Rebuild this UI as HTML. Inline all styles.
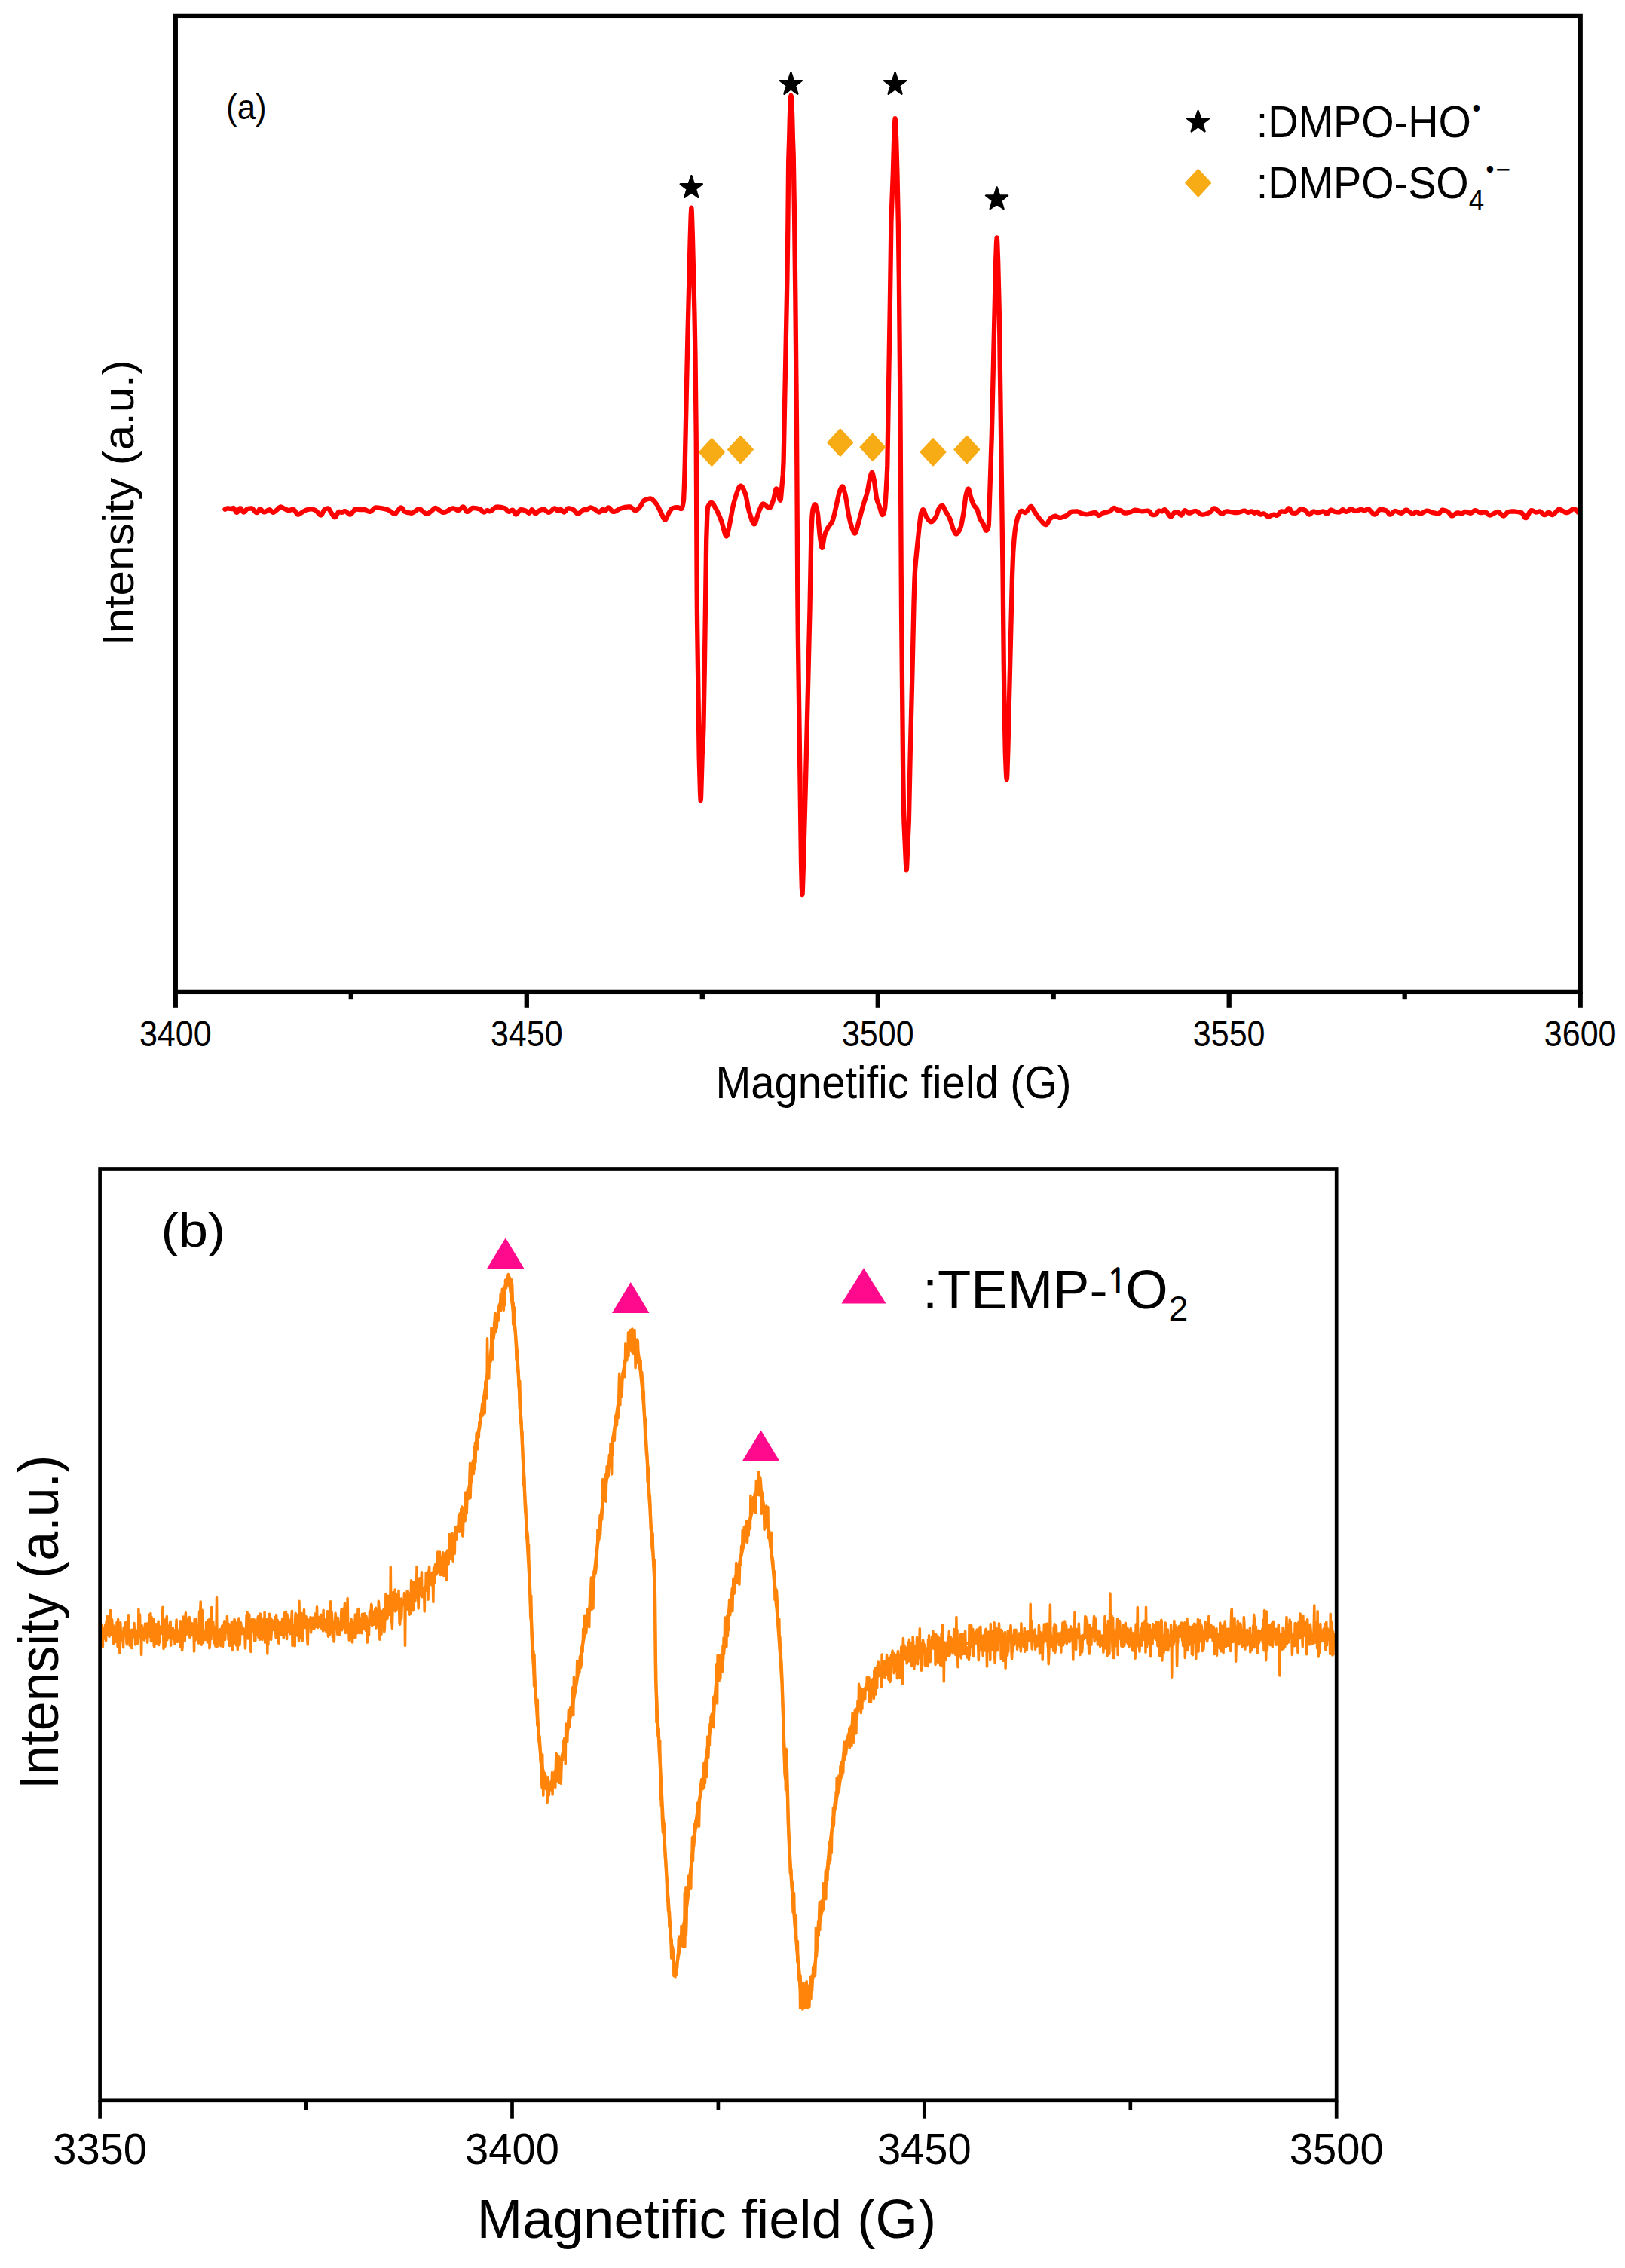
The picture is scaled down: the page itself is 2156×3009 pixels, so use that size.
<!DOCTYPE html>
<html lang="en">
<head>
<meta charset="utf-8">
<title>EPR spectra</title>
<style>
html,body{margin:0;padding:0;background:#fff;}
body{width:2156px;height:3009px;overflow:hidden;}
svg{display:block;}
</style>
</head>
<body>
<svg width="2156" height="3009" viewBox="0 0 2156 3009">
<rect x="0" y="0" width="2156" height="3009" fill="#fff"/>
<g font-family="'Liberation Sans', sans-serif" fill="#000">
<polyline points="298.5,675.8 300.5,674.7 302.0,674.3 307.8,675.2 309.2,674.1 309.7,674.0 310.2,674.2 310.8,675.0 313.2,679.1 313.7,679.7 314.2,679.8 314.7,679.7 315.3,679.0 317.9,674.9 318.4,674.4 318.9,674.3 319.4,674.5 320.0,675.2 322.4,678.8 323.0,679.4 323.5,679.5 324.6,678.9 326.9,676.1 327.8,675.3 330.9,674.6 333.7,674.3 334.4,674.5 335.2,675.0 339.0,679.2 339.9,679.9 340.7,680.2 341.2,680.2 341.8,679.7 344.0,676.0 344.5,675.5 345.0,675.2 345.6,675.4 346.2,675.8 348.8,678.7 349.9,679.4 350.7,679.4 351.6,679.2 355.8,676.6 357.6,676.2 358.7,676.7 361.2,679.4 362.3,679.8 363.3,679.6 364.4,678.9 368.2,675.8 370.9,673.1 371.7,672.6 372.5,672.5 374.1,673.0 377.7,675.2 380.8,676.5 382.4,677.0 384.1,677.0 387.9,675.9 389.4,675.9 390.8,677.1 393.9,681.7 394.7,682.4 395.4,682.6 396.3,682.5 397.4,682.0 401.5,679.1 406.5,676.5 411.1,675.4 412.9,675.2 414.2,675.4 416.2,676.0 419.0,677.4 420.3,678.5 423.9,682.6 425.0,683.3 425.9,683.5 426.5,683.2 427.1,682.4 429.4,677.6 430.3,676.3 433.0,674.8 435.2,674.3 435.9,674.7 436.7,675.6 442.6,685.1 443.5,686.0 444.3,686.3 444.9,686.1 445.6,685.3 448.4,680.2 449.1,679.3 449.7,678.9 450.6,679.0 452.7,679.7 453.7,679.8 454.5,679.6 456.6,678.2 457.8,678.1 459.4,678.9 463.0,682.0 463.9,682.5 464.8,682.6 465.6,682.3 466.4,681.6 470.0,676.6 470.9,675.7 471.7,675.3 473.1,675.3 477.3,676.1 483.7,675.8 485.2,676.4 488.8,678.5 490.6,678.9 491.5,678.7 492.6,678.0 497.0,674.1 497.9,673.6 498.8,673.4 501.9,673.6 508.1,674.6 514.6,676.2 516.5,677.2 521.2,680.8 522.5,681.5 523.6,681.7 524.5,681.5 525.5,680.7 529.9,674.8 531.0,673.7 531.9,673.4 532.6,673.5 533.4,674.1 536.1,677.7 537.1,678.7 541.6,680.2 545.0,680.7 546.2,680.8 547.1,680.5 549.0,679.5 553.7,676.0 555.0,675.4 556.2,675.2 557.3,675.5 558.6,676.3 564.0,680.9 565.2,681.5 566.2,681.7 567.6,681.4 569.3,680.5 573.9,676.8 576.2,674.5 577.3,673.9 578.5,674.1 579.8,674.6 585.6,678.8 587.0,679.6 588.2,679.8 589.7,679.7 591.3,679.2 597.9,675.3 599.4,674.7 600.7,674.4 601.6,674.3 602.5,674.5 606.5,676.7 607.5,677.0 608.3,677.0 609.7,676.2 612.9,673.1 614.3,672.5 614.9,672.6 615.6,673.3 618.4,677.8 619.1,678.6 619.7,678.9 620.6,678.8 621.6,678.2 625.9,674.4 626.9,674.0 628.0,673.9 632.2,674.3 636.7,675.3 637.9,676.1 640.7,678.9 641.4,679.3 642.1,679.5 643.1,679.2 645.4,677.5 646.4,677.1 647.2,677.2 649.2,678.3 650.8,678.1 652.6,677.0 657.1,673.3 658.4,672.7 659.6,672.5 664.4,672.9 669.9,674.4 671.1,675.3 673.8,678.2 675.0,678.9 676.1,678.7 678.9,676.8 680.1,676.6 681.1,677.6 683.4,681.7 683.9,682.3 684.4,682.6 685.1,682.5 685.9,681.8 689.3,677.2 690.1,676.5 690.8,676.2 693.4,676.4 696.8,677.2 697.9,677.9 700.6,680.2 702.0,680.8 702.4,680.6 702.9,680.1 705.0,676.6 705.5,676.2 705.9,676.2 707.0,677.1 709.3,680.6 709.9,681.2 710.4,681.3 711.8,680.7 714.5,678.0 715.6,677.2 718.5,676.2 720.7,675.8 721.8,675.8 722.7,676.2 726.9,679.6 727.7,679.8 728.5,679.8 730.2,678.8 734.3,675.0 735.3,674.5 736.2,674.3 737.3,674.8 739.4,677.2 740.3,677.9 740.8,678.0 741.2,677.9 743.0,676.0 743.8,675.8 744.8,676.4 747.2,679.0 748.2,679.5 748.8,679.3 749.5,678.7 752.1,675.4 753.1,674.5 754.4,674.3 756.8,674.7 760.8,676.1 761.9,677.1 765.0,680.8 765.9,681.5 766.7,681.7 767.6,681.5 768.7,680.8 772.3,677.5 773.7,676.5 774.8,676.2 779.1,676.1 780.0,675.6 782.2,673.8 783.2,673.4 784.7,673.6 786.4,674.3 790.3,676.5 793.6,678.9 795.1,679.5 795.7,679.4 796.3,679.0 798.6,676.5 799.6,675.8 800.4,676.0 802.3,677.5 803.1,677.5 804.0,676.8 806.2,674.0 807.2,673.4 807.9,673.5 808.6,674.0 812.1,678.0 812.9,678.7 813.6,678.9 815.0,678.8 816.7,678.2 823.2,674.6 828.9,673.0 833.9,672.4 835.6,672.3 836.6,672.6 837.9,673.5 841.4,676.6 842.5,677.1 843.6,677.2 844.7,676.7 845.9,675.9 849.5,672.0 850.6,670.3 853.0,665.8 854.3,664.1 856.4,663.1 858.9,662.2 861.1,661.7 863.2,661.5 864.7,662.0 866.4,663.3 868.2,665.2 871.3,669.1 873.0,672.0 877.3,680.6 880.5,687.7 881.7,689.3 882.3,689.5 882.8,689.4 883.5,688.7 884.2,687.5 887.5,680.4 890.3,676.0 891.8,674.4 895.1,673.4 898.6,673.1 899.9,673.4 903.0,674.9 903.9,675.1 904.4,674.8 905.1,673.4 905.8,671.0 907.1,663.3 908.0,642.6 908.7,618.7 912.4,446.7 915.7,317.4 916.7,285.7 917.3,275.7 917.6,277.6 917.9,283.6 918.9,314.5 921.4,413.5 922.5,472.4 923.7,579.2 924.7,787.3 925.1,828.7 927.7,1004.8 929.0,1051.0 929.6,1062.4 929.9,1060.2 930.2,1053.1 931.7,1001.2 932.9,981.0 933.4,965.8 934.9,881.2 937.2,716.3 938.2,686.1 938.7,677.0 939.2,672.4 941.0,668.9 942.0,667.7 943.0,667.1 944.0,666.9 944.8,667.2 945.7,668.1 946.8,669.7 951.2,677.3 955.0,685.9 957.7,692.9 961.9,708.4 962.9,710.7 963.4,711.3 963.9,711.5 964.3,711.2 964.8,710.2 965.8,706.3 968.8,691.9 972.2,673.3 973.6,667.2 976.8,656.4 978.7,650.7 980.4,646.9 981.2,645.7 982.0,644.9 982.7,644.6 983.3,644.7 984.0,645.2 984.8,646.1 986.4,649.0 988.7,654.4 989.9,658.9 992.6,673.1 993.7,677.8 997.9,691.2 999.3,694.2 999.9,694.9 1000.5,695.3 1001.0,695.3 1001.4,695.1 1002.4,693.2 1006.5,679.6 1009.8,671.7 1011.4,669.0 1012.3,668.5 1013.8,668.9 1015.2,669.9 1018.4,672.8 1020.0,673.7 1021.2,673.8 1022.4,672.5 1023.9,669.3 1026.4,662.5 1028.8,651.3 1029.3,649.6 1029.8,648.6 1030.1,648.5 1030.5,648.8 1031.2,650.3 1033.8,660.5 1034.7,663.1 1035.1,663.7 1035.5,663.8 1036.0,661.6 1038.8,629.4 1039.6,611.9 1044.4,369.7 1045.3,305.2 1046.2,213.3 1047.2,183.4 1047.9,153.8 1048.8,133.8 1049.2,128.4 1049.5,126.8 1049.8,127.8 1050.2,132.5 1051.1,151.9 1051.9,184.2 1052.7,205.3 1054.1,289.9 1055.3,391.0 1057.0,565.7 1058.3,787.4 1058.8,841.3 1063.0,1144.6 1063.8,1176.5 1064.4,1187.0 1064.6,1186.1 1064.9,1180.2 1065.9,1149.0 1068.9,1040.8 1074.5,808.0 1076.3,710.4 1077.3,688.3 1077.9,680.2 1078.5,675.6 1079.9,670.9 1080.6,669.7 1081.2,669.2 1081.7,669.5 1082.3,670.6 1083.5,674.7 1084.7,680.2 1085.2,683.8 1087.7,710.6 1089.6,723.4 1090.2,725.9 1090.8,726.9 1091.2,726.3 1091.6,724.8 1093.4,713.0 1094.3,709.4 1095.8,705.5 1098.0,701.0 1099.3,699.0 1103.0,694.0 1105.0,689.9 1106.9,682.9 1113.1,654.7 1113.8,652.5 1115.6,648.1 1116.5,646.4 1117.3,645.5 1117.7,645.4 1118.1,645.6 1119.0,647.2 1120.0,650.5 1121.7,657.4 1122.8,663.3 1125.8,682.7 1128.6,694.7 1130.1,699.7 1131.9,704.2 1133.0,706.6 1133.9,707.6 1134.4,707.6 1134.9,707.1 1136.1,704.1 1140.0,690.1 1144.6,672.5 1149.8,656.1 1151.3,650.1 1154.2,634.0 1155.8,628.7 1156.7,627.0 1157.0,626.9 1157.3,627.1 1158.0,628.8 1160.1,638.8 1162.4,657.3 1163.1,661.5 1164.4,665.9 1167.1,672.7 1169.6,681.3 1170.2,682.6 1170.7,683.1 1171.2,682.9 1171.8,682.2 1173.2,678.2 1174.2,673.3 1175.0,662.9 1176.6,634.6 1177.3,617.9 1180.9,400.7 1182.4,294.2 1184.8,231.1 1186.1,186.0 1187.0,164.2 1187.6,157.1 1187.9,158.4 1188.2,162.7 1189.2,186.5 1190.5,232.5 1191.8,296.2 1192.9,373.6 1194.4,534.0 1196.0,807.3 1198.2,1027.5 1198.9,1068.2 1199.5,1091.8 1202.0,1146.7 1202.6,1154.3 1202.9,1152.9 1203.2,1148.3 1205.9,1088.0 1207.7,1001.0 1210.4,893.4 1212.5,800.1 1213.5,767.0 1214.1,755.8 1215.0,744.5 1219.3,701.8 1221.3,685.4 1222.0,681.2 1222.6,679.3 1223.9,676.7 1224.4,676.2 1224.9,676.2 1225.5,676.9 1226.1,678.1 1228.8,685.3 1231.1,688.7 1232.7,690.7 1234.1,691.9 1235.3,692.3 1236.5,692.0 1237.5,691.4 1238.7,690.1 1241.8,685.8 1242.8,683.3 1245.0,676.3 1246.0,674.1 1247.5,672.3 1248.6,671.3 1249.6,670.8 1250.4,670.9 1251.0,671.4 1251.7,672.4 1254.4,678.0 1258.2,684.1 1260.0,687.6 1261.2,690.8 1264.0,699.9 1266.8,706.5 1267.5,707.7 1268.1,708.3 1268.7,708.4 1269.4,708.2 1270.8,706.9 1272.5,704.2 1274.1,701.1 1275.1,697.9 1276.5,691.4 1278.6,679.4 1281.4,657.7 1283.3,650.6 1284.0,649.0 1284.7,648.5 1285.2,649.0 1285.7,650.3 1288.2,660.6 1290.8,667.7 1292.6,671.2 1295.3,674.1 1296.4,675.8 1297.2,678.0 1299.9,687.4 1301.2,689.9 1304.7,695.5 1307.5,702.8 1308.0,703.6 1308.4,703.8 1308.9,703.8 1309.4,703.4 1310.5,701.6 1311.5,698.7 1311.8,696.3 1312.1,689.8 1315.8,577.7 1321.0,351.1 1322.0,323.0 1322.6,315.3 1322.9,316.8 1323.2,321.4 1324.1,344.8 1325.9,418.2 1330.5,756.9 1331.8,882.7 1332.5,934.0 1333.8,998.4 1334.9,1025.5 1335.3,1031.7 1335.7,1034.3 1336.0,1032.6 1336.3,1027.2 1337.3,997.0 1343.0,764.3 1344.2,733.6 1345.5,715.3 1346.8,703.0 1348.2,694.5 1350.2,686.6 1351.1,684.1 1352.4,681.4 1354.0,678.7 1354.6,678.0 1355.2,677.7 1356.4,678.0 1359.4,679.9 1360.2,680.0 1360.9,679.7 1362.2,678.5 1366.6,672.6 1367.4,671.9 1368.2,672.0 1369.2,673.0 1372.2,678.2 1377.1,685.5 1379.4,688.5 1384.8,694.7 1386.3,695.8 1387.7,696.2 1388.5,695.9 1389.4,694.9 1392.4,689.6 1393.4,688.1 1395.5,686.5 1397.4,685.4 1398.9,684.8 1400.3,684.6 1401.6,685.0 1405.5,686.8 1407.0,686.9 1408.9,686.5 1414.7,684.2 1416.2,683.1 1420.1,679.7 1422.3,678.6 1429.7,678.5 1430.7,678.9 1433.8,680.7 1438.0,681.9 1441.0,682.3 1443.8,682.1 1450.4,680.3 1453.3,680.0 1454.3,680.6 1456.8,683.4 1457.4,683.8 1457.9,683.8 1459.3,683.3 1462.0,681.4 1463.1,680.8 1465.3,680.1 1470.3,679.1 1472.6,678.3 1473.8,677.5 1476.8,674.6 1477.7,674.0 1478.5,673.8 1479.6,674.3 1481.7,676.2 1482.6,676.8 1486.3,676.9 1487.2,677.2 1490.7,680.1 1492.0,680.7 1495.2,680.5 1500.1,679.2 1504.3,677.1 1505.9,676.6 1508.2,676.8 1513.1,678.0 1515.2,678.4 1523.2,677.6 1524.0,677.9 1524.8,678.6 1528.2,682.5 1529.5,683.2 1531.7,683.0 1533.7,682.4 1534.6,681.4 1536.6,678.5 1537.5,677.7 1538.4,677.7 1540.8,678.3 1541.8,678.3 1542.6,678.0 1544.5,676.4 1545.5,676.2 1546.4,676.6 1547.4,677.7 1551.8,684.3 1552.7,685.1 1553.6,685.4 1554.2,685.1 1554.8,684.5 1557.4,680.4 1558.0,679.9 1558.7,679.8 1561.5,679.5 1563.2,679.6 1564.1,680.3 1566.5,683.1 1567.1,683.5 1567.7,683.5 1568.7,682.3 1571.0,677.9 1571.5,677.3 1572.0,677.1 1573.3,677.6 1576.1,680.1 1577.3,680.7 1579.2,680.5 1583.9,678.4 1586.1,678.0 1587.1,678.2 1588.2,678.7 1592.2,681.5 1593.8,682.4 1595.3,682.6 1598.2,682.3 1601.6,681.3 1605.5,679.7 1606.6,678.7 1609.3,675.2 1610.1,674.5 1610.8,674.3 1611.9,674.6 1613.2,675.4 1616.1,677.6 1619.2,680.9 1620.7,681.7 1621.5,681.6 1622.3,681.3 1625.7,679.0 1627.1,678.4 1629.9,678.5 1637.3,680.0 1640.6,680.2 1643.2,679.8 1649.0,677.9 1651.5,677.6 1652.5,677.9 1654.8,679.5 1655.9,679.8 1657.1,679.6 1659.8,678.5 1660.9,678.4 1661.7,678.8 1663.5,680.4 1664.3,680.8 1665.2,680.5 1667.4,679.1 1668.3,679.0 1669.2,679.5 1671.3,681.8 1672.2,682.5 1673.2,682.5 1675.6,681.5 1676.8,681.4 1678.2,682.1 1681.3,684.8 1682.8,685.4 1684.5,685.0 1688.1,683.2 1689.7,682.7 1690.9,682.7 1693.4,683.8 1694.4,683.8 1695.6,682.9 1698.3,679.7 1699.5,678.6 1700.6,678.4 1704.2,678.9 1705.4,678.8 1706.5,677.9 1708.9,675.0 1709.5,674.5 1710.1,674.3 1710.6,674.5 1711.2,675.1 1713.8,679.7 1714.9,680.7 1718.9,680.8 1719.7,680.5 1721.0,679.6 1724.6,675.9 1725.7,675.3 1726.7,675.3 1729.0,675.8 1732.0,677.2 1733.1,678.3 1735.8,681.8 1736.6,682.4 1737.3,682.6 1738.5,682.1 1741.3,679.1 1742.6,678.4 1743.9,678.6 1747.0,679.9 1748.4,680.2 1750.2,679.9 1754.2,678.6 1755.9,678.4 1757.0,679.0 1759.3,681.3 1760.4,681.7 1761.0,681.5 1761.6,681.0 1764.4,677.4 1765.1,676.8 1765.7,676.5 1767.2,676.8 1771.1,678.9 1774.3,679.3 1777.0,679.5 1778.0,679.0 1780.3,676.8 1781.3,676.2 1782.4,676.4 1785.1,678.5 1785.8,678.9 1786.4,678.9 1787.9,678.3 1791.2,675.7 1792.6,675.2 1793.8,675.5 1796.8,677.6 1798.2,678.0 1800.0,677.7 1804.3,676.2 1806.3,675.8 1807.3,676.0 1809.5,677.5 1810.4,677.6 1811.4,677.2 1813.9,675.5 1814.6,675.2 1815.3,675.3 1816.2,675.7 1817.3,676.6 1821.9,681.6 1823.0,682.4 1824.0,682.6 1824.8,682.4 1825.6,681.8 1829.5,676.9 1830.4,676.1 1831.3,675.8 1835.0,676.1 1839.1,677.2 1840.2,678.2 1842.9,681.8 1843.6,682.4 1844.3,682.6 1845.0,682.5 1845.8,682.0 1849.0,678.9 1850.3,678.1 1851.1,678.0 1852.3,678.2 1857.2,680.4 1859.3,680.8 1860.8,680.1 1864.1,677.1 1865.5,676.5 1866.5,676.7 1867.6,677.2 1872.4,680.8 1873.5,681.4 1874.5,681.7 1875.7,681.4 1878.3,679.3 1879.4,678.9 1880.5,679.3 1883.3,681.5 1884.0,681.7 1884.9,681.6 1886.7,680.9 1891.1,678.2 1893.2,677.6 1895.6,678.0 1901.3,680.2 1906.0,681.1 1909.0,681.3 1909.5,681.1 1910.1,680.6 1912.7,677.0 1913.3,676.6 1914.1,676.5 1917.2,677.2 1921.2,679.1 1922.3,680.1 1925.0,683.6 1925.8,684.3 1926.5,684.5 1927.3,684.3 1928.2,683.9 1931.8,681.0 1933.3,680.3 1934.8,680.3 1938.2,681.2 1939.6,681.3 1940.7,680.9 1943.1,679.2 1944.2,678.9 1945.9,679.2 1949.9,680.6 1951.6,680.8 1952.9,680.1 1955.7,677.6 1956.9,677.1 1958.6,677.5 1962.3,679.6 1963.8,680.2 1965.6,680.1 1969.9,679.5 1971.3,679.6 1972.4,680.3 1975.0,682.9 1976.3,683.5 1977.6,683.4 1979.1,682.8 1985.2,679.4 1986.6,679.0 1987.8,679.0 1989.4,679.9 1993.1,683.7 1994.0,684.3 1994.8,684.5 1995.6,684.2 1996.4,683.7 1999.5,680.1 2000.8,679.1 2004.6,678.5 2008.9,678.4 2016.2,679.5 2019.0,680.3 2020.2,681.6 2023.0,686.3 2023.7,687.0 2024.3,687.2 2025.1,686.9 2025.9,686.1 2029.8,678.8 2030.8,677.5 2031.6,677.1 2033.1,677.4 2036.4,679.0 2037.8,679.5 2039.1,679.4 2042.2,678.4 2043.4,678.5 2044.7,679.4 2047.7,682.5 2048.5,683.0 2049.2,683.2 2050.4,682.8 2053.4,680.1 2054.1,679.6 2054.8,679.5 2055.9,680.0 2058.7,682.9 2059.4,683.2 2060.2,683.0 2062.1,681.7 2066.5,676.8 2067.5,676.1 2068.5,675.8 2069.5,675.9 2070.7,676.3 2076.3,679.5 2077.7,680.1 2078.9,680.2 2079.9,680.0 2081.1,679.4 2086.2,675.7 2087.4,675.3 2088.4,675.3 2089.5,675.6 2090.7,676.4 2093.6,679.5" fill="none" stroke="#ff0000" stroke-width="6.3" stroke-linejoin="round" stroke-linecap="round"/>
<rect x="232.8" y="20.9" width="1863.9" height="1295.0" fill="none" stroke="#000" stroke-width="6.3"/>
<line x1="232.8" y1="1315.9" x2="232.8" y2="1336.8" stroke="#000" stroke-width="6.3"/>
<line x1="698.8" y1="1315.9" x2="698.8" y2="1336.8" stroke="#000" stroke-width="6.3"/>
<line x1="1164.8" y1="1315.9" x2="1164.8" y2="1336.8" stroke="#000" stroke-width="6.3"/>
<line x1="1630.7" y1="1315.9" x2="1630.7" y2="1336.8" stroke="#000" stroke-width="6.3"/>
<line x1="2096.7" y1="1315.9" x2="2096.7" y2="1336.8" stroke="#000" stroke-width="6.3"/>
<line x1="465.8" y1="1315.9" x2="465.8" y2="1326.2" stroke="#000" stroke-width="6.3"/>
<line x1="931.8" y1="1315.9" x2="931.8" y2="1326.2" stroke="#000" stroke-width="6.3"/>
<line x1="1397.7" y1="1315.9" x2="1397.7" y2="1326.2" stroke="#000" stroke-width="6.3"/>
<line x1="1863.7" y1="1315.9" x2="1863.7" y2="1326.2" stroke="#000" stroke-width="6.3"/>
<text class="ta" x="232.8" y="1387.75" font-size="48.8" text-anchor="middle" textLength="95.75" lengthAdjust="spacingAndGlyphs">3400</text>
<text class="ta" x="698.8" y="1387.75" font-size="48.8" text-anchor="middle" textLength="95.75" lengthAdjust="spacingAndGlyphs">3450</text>
<text class="ta" x="1164.8" y="1387.75" font-size="48.8" text-anchor="middle" textLength="95.75" lengthAdjust="spacingAndGlyphs">3500</text>
<text class="ta" x="1630.7" y="1387.75" font-size="48.8" text-anchor="middle" textLength="95.75" lengthAdjust="spacingAndGlyphs">3550</text>
<text class="ta" x="2096.7" y="1387.75" font-size="48.8" text-anchor="middle" textLength="95.75" lengthAdjust="spacingAndGlyphs">3600</text>
<text id="xa" x="1185.5" y="1457" font-size="61.8" text-anchor="middle" textLength="472.2" lengthAdjust="spacingAndGlyphs">Magnetific field (G)</text>
<text id="ya" transform="translate(177.0 667.2) rotate(-90)" font-size="58" text-anchor="middle" textLength="379.6" lengthAdjust="spacingAndGlyphs">Intensity (a.u.)</text>
<text id="la" x="300" y="157.8" font-size="46" textLength="53.7" lengthAdjust="spacingAndGlyphs">(a)</text>
<polygon points="917.3,233.2 920.8,244.0 931.8,244.2 923.0,251.0 926.2,261.8 917.3,255.3 908.4,261.8 911.6,251.0 902.8,244.2 913.8,244.0" fill="#000" stroke="#000" stroke-width="2.4" stroke-linejoin="round"/>
<polygon points="1049.4,96.1 1052.9,106.9 1063.9,107.1 1055.1,113.9 1058.3,124.7 1049.4,118.2 1040.5,124.7 1043.7,113.9 1034.9,107.1 1045.9,106.9" fill="#000" stroke="#000" stroke-width="2.4" stroke-linejoin="round"/>
<polygon points="1187.6,96.1 1191.1,106.9 1202.1,107.1 1193.3,113.9 1196.5,124.7 1187.6,118.2 1178.7,124.7 1181.9,113.9 1173.1,107.1 1184.1,106.9" fill="#000" stroke="#000" stroke-width="2.4" stroke-linejoin="round"/>
<polygon points="1322.6,248.4 1326.1,259.2 1337.1,259.4 1328.3,266.2 1331.5,277.0 1322.6,270.5 1313.7,277.0 1316.9,266.2 1308.1,259.4 1319.1,259.2" fill="#000" stroke="#000" stroke-width="2.4" stroke-linejoin="round"/>
<polygon points="1589.6,146.9 1593.1,157.2 1604.1,157.4 1595.3,164.0 1598.5,174.4 1589.6,168.1 1580.7,174.4 1583.9,164.0 1575.1,157.4 1586.1,157.2" fill="#000" stroke="#000" stroke-width="2.4" stroke-linejoin="round"/>
<polygon points="944.4,582.3 960.8,600.0 944.4,617.7 928.0,600.0" fill="#f7ab14" stroke="#f7ab14" stroke-width="2" stroke-linejoin="round"/>
<polygon points="982.5,578.8 998.9,596.5 982.5,614.2 966.1,596.5" fill="#f7ab14" stroke="#f7ab14" stroke-width="2" stroke-linejoin="round"/>
<polygon points="1114.8,569.5 1131.2,587.2 1114.8,604.9 1098.4,587.2" fill="#f7ab14" stroke="#f7ab14" stroke-width="2" stroke-linejoin="round"/>
<polygon points="1157.8,575.7 1174.2,593.4 1157.8,611.1 1141.4,593.4" fill="#f7ab14" stroke="#f7ab14" stroke-width="2" stroke-linejoin="round"/>
<polygon points="1238.0,582.1 1254.4,599.8 1238.0,617.5 1221.6,599.8" fill="#f7ab14" stroke="#f7ab14" stroke-width="2" stroke-linejoin="round"/>
<polygon points="1282.8,578.8 1299.2,596.5 1282.8,614.2 1266.4,596.5" fill="#f7ab14" stroke="#f7ab14" stroke-width="2" stroke-linejoin="round"/>
<polygon points="1589.7,225.1 1606.1,242.8 1589.7,260.5 1573.3,242.8" fill="#f7ab14" stroke="#f7ab14" stroke-width="2" stroke-linejoin="round"/>
<g transform="translate(1666.7 181.8) scale(0.933 1)"><text id="l1" x="0" y="0" font-size="59.8">:DMPO-HO<tspan font-size="33" dy="-27" dx="1.8">•</tspan></text></g>
<g transform="translate(1666.7 263.1) scale(0.933 1)"><text id="l2" x="0" y="0" font-size="59.8">:DMPO-SO<tspan font-size="39.4" dy="15.6">4</tspan><tspan font-size="33" dy="-42.6" dx="2.6">•</tspan><tspan font-size="36" dy="0.8" dx="2.2">−</tspan></text></g>
<polyline points="132.6,2168.0 185.1,2167.3 251.1,2166.0 291.1,2164.8 331.1,2163.3 362.1,2161.9 380.9,2160.8 431.9,2156.9 461.4,2155.0 477.9,2153.3 484.1,2152.1 490.6,2149.8 515.9,2138.0 524.4,2133.8 533.6,2128.7 543.6,2122.5 551.4,2117.1 558.4,2111.5 562.6,2107.6 566.9,2103.1 571.4,2097.9 576.1,2091.8 584.1,2080.3 587.9,2074.1 591.4,2067.7 595.6,2059.0 600.1,2047.7 612.4,2013.8 616.6,2000.4 618.6,1992.7 620.9,1982.1 628.1,1942.3 639.1,1873.9 652.1,1788.6 656.9,1760.8 659.9,1746.0 662.6,1733.9 668.9,1711.5 670.6,1706.0 672.1,1702.4 673.4,1700.6 674.1,1700.1 674.6,1700.0 675.1,1700.6 675.9,1702.8 677.4,1710.7 681.6,1744.8 684.1,1771.6 687.1,1811.9 691.9,1894.9 697.1,2000.0 702.1,2087.1 707.1,2196.7 708.6,2219.8 714.9,2302.5 717.6,2331.7 718.6,2339.9 719.6,2345.5 722.4,2357.3 724.9,2365.2 725.9,2367.3 726.9,2368.6 727.9,2369.0 729.1,2368.7 730.6,2367.5 732.1,2365.7 735.9,2359.1 739.4,2351.7 742.4,2342.6 746.1,2328.8 748.6,2318.2 758.6,2267.6 763.9,2238.0 776.6,2160.5 778.6,2150.2 782.6,2132.6 784.6,2121.5 786.9,2104.0 792.1,2055.6 799.4,1996.9 801.9,1980.3 809.1,1937.1 823.6,1840.0 828.4,1811.5 831.4,1796.5 834.9,1782.1 836.4,1776.9 837.9,1773.4 838.6,1772.6 839.4,1772.6 840.1,1773.2 841.1,1774.9 843.1,1780.7 846.6,1795.4 847.9,1802.6 849.6,1816.5 851.6,1836.0 853.6,1858.2 855.1,1879.0 859.4,1948.0 863.9,2027.5 866.6,2063.7 867.9,2086.7 868.9,2114.6 869.1,2128.1 870.1,2226.8 871.6,2267.9 873.9,2303.5 879.4,2410.1 887.9,2542.6 889.4,2563.4 891.9,2590.0 893.4,2603.9 894.6,2611.5 895.4,2613.4 895.6,2613.5 896.1,2613.1 896.9,2611.4 897.9,2607.4 901.6,2585.5 906.6,2559.2 909.6,2540.6 911.9,2523.0 917.4,2471.2 924.4,2411.1 927.1,2392.6 933.9,2355.1 941.9,2296.3 946.9,2265.7 949.1,2247.0 950.4,2230.3 951.4,2223.8 953.1,2215.9 957.4,2202.9 959.6,2191.9 963.9,2164.9 968.1,2130.6 970.1,2120.0 976.6,2095.2 984.9,2056.8 1000.9,1992.9 1004.6,1975.4 1006.1,1970.7 1006.9,1969.7 1007.4,1969.6 1008.4,1971.5 1009.6,1976.9 1013.4,2000.0 1018.6,2025.0 1021.1,2040.1 1023.1,2056.1 1025.3,2077.1 1028.1,2104.9 1030.6,2133.2 1034.8,2188.8 1037.6,2234.3 1038.6,2260.9 1040.6,2329.3 1041.6,2353.2 1042.1,2358.8 1042.3,2359.5 1042.8,2326.2 1043.3,2330.5 1044.1,2350.2 1046.1,2423.8 1047.6,2455.2 1049.3,2484.7 1051.6,2515.9 1061.6,2636.0 1063.1,2649.7 1063.8,2652.8 1064.3,2653.2 1065.1,2652.8 1066.1,2651.9 1070.3,2646.3 1072.6,2642.7 1074.6,2638.5 1075.8,2635.1 1077.1,2630.6 1079.8,2616.8 1081.8,2602.8 1085.6,2560.9 1087.3,2550.0 1091.3,2531.7 1092.8,2522.0 1103.1,2432.0 1106.1,2408.1 1108.8,2391.2 1113.8,2366.6 1115.8,2355.4 1117.1,2347.0 1119.6,2326.1 1121.3,2317.6 1123.3,2309.8 1128.3,2294.8 1133.6,2283.3 1135.3,2278.9 1136.8,2274.0 1141.8,2255.4 1145.8,2244.5 1148.6,2239.0 1151.1,2235.5 1153.8,2232.3 1156.8,2229.4 1160.6,2226.2 1168.1,2220.4 1181.6,2211.6 1194.6,2201.9 1198.8,2199.3 1206.1,2195.7 1212.6,2193.0 1219.3,2190.7 1227.8,2188.2 1236.6,2186.1 1258.8,2182.0 1265.6,2181.1 1271.8,2180.6 1299.1,2179.4 1314.8,2178.4 1365.6,2174.1 1386.1,2172.6 1398.8,2172.0 1434.3,2171.0 1482.1,2170.1 1513.3,2170.0 1580.3,2170.9 1611.1,2171.0 1773.1,2169.0" fill="none" stroke="#ff8409" stroke-width="4.4" stroke-linejoin="round" stroke-linecap="butt"/>
<polyline points="132.6,2168.0 133.1,2171.7 133.7,2164.6 134.2,2156.9 134.7,2162.3 135.3,2155.6 135.8,2169.5 136.3,2184.7 136.9,2161.8 137.4,2160.2 137.9,2174.1 138.5,2172.4 139.0,2169.3 139.5,2156.3 140.1,2167.6 140.6,2176.6 141.1,2151.1 141.7,2162.2 142.2,2144.2 142.8,2151.8 143.3,2144.9 143.8,2165.0 144.4,2152.1 144.9,2171.3 145.4,2169.9 146.0,2165.5 146.5,2136.4 147.0,2161.1 147.6,2167.3 148.1,2169.3 148.6,2148.7 149.2,2161.9 149.7,2155.6 150.2,2157.7 150.8,2181.1 151.3,2157.7 151.8,2167.4 152.4,2178.9 152.9,2160.5 153.4,2166.4 154.0,2169.2 154.5,2168.6 155.0,2152.5 155.6,2168.7 156.1,2184.8 156.6,2148.4 157.2,2178.5 157.7,2169.2 158.2,2159.7 158.8,2192.7 159.3,2177.3 159.8,2152.7 160.4,2168.7 160.9,2174.9 161.4,2165.3 162.0,2176.2 162.5,2166.9 163.1,2176.0 163.6,2185.7 164.1,2159.2 164.7,2170.2 165.2,2161.9 165.7,2169.2 166.3,2152.8 166.8,2160.4 167.3,2165.2 167.9,2178.9 168.4,2181.9 168.9,2151.1 169.5,2157.7 170.0,2175.7 170.5,2142.7 171.1,2161.8 171.6,2166.3 172.1,2183.3 172.7,2176.2 173.2,2163.4 173.7,2162.9 174.3,2164.4 174.8,2186.6 175.3,2162.2 175.9,2163.7 176.4,2171.9 176.9,2166.0 177.5,2165.0 178.0,2153.5 178.5,2167.3 179.1,2161.9 179.6,2182.0 180.1,2175.6 180.7,2167.1 181.2,2175.8 181.7,2163.2 182.3,2180.5 182.8,2167.3 183.4,2174.7 183.9,2135.1 184.4,2171.7 185.0,2146.2 185.5,2141.9 186.0,2163.5 186.6,2156.1 187.1,2169.4 187.6,2195.4 188.2,2156.9 188.7,2159.5 189.2,2169.8 189.8,2173.4 190.3,2162.8 190.8,2164.7 191.4,2176.0 191.9,2173.7 192.4,2154.3 193.0,2166.2 193.5,2167.6 194.0,2154.0 194.6,2170.4 195.1,2156.4 195.6,2179.3 196.2,2169.6 196.7,2168.3 197.2,2152.4 197.8,2165.6 198.3,2142.1 198.8,2153.0 199.4,2171.6 199.9,2140.5 200.4,2177.7 201.0,2145.2 201.5,2176.5 202.0,2156.5 202.6,2176.8 203.1,2168.7 203.7,2147.8 204.2,2182.6 204.7,2185.0 205.3,2166.2 205.8,2163.5 206.3,2165.0 206.9,2154.8 207.4,2180.7 207.9,2160.1 208.5,2165.6 209.0,2157.0 209.5,2159.1 210.1,2150.9 210.6,2182.6 211.1,2164.9 211.7,2178.9 212.2,2167.0 212.7,2158.1 213.3,2162.7 213.8,2159.8 214.3,2166.9 214.9,2162.1 215.4,2163.0 215.9,2132.3 216.5,2156.7 217.0,2187.4 217.5,2158.3 218.1,2153.5 218.6,2170.9 219.1,2184.3 219.7,2148.5 220.2,2164.1 220.7,2158.8 221.3,2144.6 221.8,2175.8 222.3,2166.3 222.9,2167.5 223.4,2157.2 224.0,2172.3 224.5,2159.8 225.0,2164.8 225.6,2152.7 226.1,2151.3 226.6,2183.2 227.2,2160.2 227.7,2170.2 228.2,2166.1 228.8,2161.0 229.3,2160.1 229.8,2174.3 230.4,2162.7 230.9,2164.5 231.4,2166.7 232.0,2181.1 232.5,2174.9 233.0,2171.2 233.6,2159.3 234.1,2149.1 234.6,2178.2 235.2,2178.4 235.7,2164.6 236.2,2173.1 236.8,2176.1 237.3,2176.7 237.8,2177.8 238.4,2160.6 238.9,2185.2 239.4,2150.7 240.0,2177.0 240.5,2172.4 241.0,2177.1 241.6,2189.7 242.1,2184.7 242.7,2151.9 243.2,2145.0 243.7,2176.4 244.3,2153.4 244.8,2166.0 245.3,2176.6 245.9,2145.5 246.4,2139.7 246.9,2169.3 247.5,2166.6 248.0,2163.0 248.5,2166.5 249.1,2155.3 249.6,2147.1 250.1,2163.9 250.7,2153.8 251.2,2145.4 251.7,2172.3 252.3,2165.2 252.8,2171.0 253.3,2153.6 253.9,2157.7 254.4,2153.4 254.9,2154.8 255.5,2168.3 256.0,2156.1 256.5,2170.3 257.1,2170.1 257.6,2191.1 258.1,2148.4 258.7,2176.9 259.2,2164.7 259.7,2165.6 260.3,2147.6 260.8,2160.0 261.3,2175.0 261.9,2164.7 262.4,2166.7 263.0,2162.0 263.5,2180.1 264.0,2165.4 264.6,2138.1 265.1,2157.0 265.6,2141.0 266.2,2124.9 266.7,2159.0 267.2,2182.2 267.8,2166.1 268.3,2136.2 268.8,2153.8 269.4,2179.6 269.9,2167.5 270.4,2166.1 271.0,2164.8 271.5,2165.9 272.0,2175.5 272.6,2172.3 273.1,2170.8 273.6,2152.3 274.2,2171.8 274.7,2156.8 275.2,2179.0 275.8,2149.4 276.3,2163.6 276.8,2165.2 277.4,2148.7 277.9,2186.8 278.4,2183.5 279.0,2159.4 279.5,2174.9 280.0,2174.7 280.6,2132.5 281.1,2168.3 281.6,2164.4 282.2,2166.2 282.7,2151.6 283.3,2161.7 283.8,2162.8 284.3,2179.9 284.9,2169.2 285.4,2165.0 285.9,2184.1 286.5,2158.1 287.0,2160.1 287.5,2119.5 288.1,2184.6 288.6,2177.0 289.1,2176.4 289.7,2173.2 290.2,2166.2 290.7,2167.5 291.3,2161.7 291.8,2162.3 292.3,2165.5 292.9,2183.7 293.4,2171.7 293.9,2164.0 294.5,2157.5 295.0,2156.8 295.5,2184.7 296.1,2171.0 296.6,2165.5 297.1,2160.3 297.7,2150.8 298.2,2163.8 298.7,2175.5 299.3,2159.7 299.8,2161.7 300.3,2161.8 300.9,2165.9 301.4,2144.6 301.9,2158.6 302.5,2153.8 303.0,2175.5 303.6,2154.8 304.1,2171.6 304.6,2183.4 305.2,2160.4 305.7,2156.8 306.2,2166.7 306.8,2164.3 307.3,2151.9 307.8,2170.0 308.4,2189.4 308.9,2161.0 309.4,2159.1 310.0,2151.1 310.5,2168.1 311.0,2148.5 311.6,2150.3 312.1,2180.1 312.6,2152.8 313.2,2177.6 313.7,2183.1 314.2,2167.3 314.8,2170.9 315.3,2188.4 315.8,2161.5 316.4,2156.5 316.9,2147.0 317.4,2164.4 318.0,2182.4 318.5,2175.8 319.0,2152.0 319.6,2153.1 320.1,2157.5 320.6,2167.4 321.2,2161.2 321.7,2166.4 322.2,2167.4 322.8,2159.9 323.3,2163.2 323.9,2166.2 324.4,2162.6 324.9,2169.9 325.5,2187.0 326.0,2170.9 326.5,2164.9 327.1,2142.4 327.6,2168.3 328.1,2139.1 328.7,2145.8 329.2,2174.1 329.7,2172.2 330.3,2161.5 330.8,2142.0 331.3,2158.7 331.9,2154.8 332.4,2171.2 332.9,2191.5 333.5,2165.9 334.0,2153.5 334.5,2148.5 335.1,2162.5 335.6,2160.9 336.1,2148.7 336.7,2164.5 337.2,2148.7 337.7,2176.9 338.3,2176.3 338.8,2176.6 339.3,2157.0 339.9,2169.4 340.4,2161.3 340.9,2158.0 341.5,2158.6 342.0,2146.6 342.5,2144.8 343.1,2172.7 343.6,2160.4 344.2,2168.2 344.7,2175.2 345.2,2141.0 345.8,2152.9 346.3,2167.0 346.8,2167.5 347.4,2157.9 347.9,2175.4 348.4,2167.8 349.0,2147.4 349.5,2150.9 350.0,2172.5 350.6,2168.3 351.1,2138.7 351.6,2179.3 352.2,2169.9 352.7,2179.1 353.2,2157.5 353.8,2158.6 354.3,2148.2 354.8,2194.0 355.4,2160.0 355.9,2182.0 356.4,2154.1 357.0,2164.2 357.5,2141.2 358.0,2157.3 358.6,2174.4 359.1,2146.4 359.6,2175.4 360.2,2166.2 360.7,2148.9 361.2,2155.7 361.8,2156.2 362.3,2161.3 362.9,2155.2 363.4,2151.5 363.9,2158.0 364.5,2148.9 365.0,2145.6 365.5,2161.1 366.1,2172.7 366.6,2142.5 367.1,2161.7 367.7,2153.5 368.2,2149.3 368.7,2172.2 369.3,2155.0 369.8,2180.2 370.3,2151.7 370.9,2166.2 371.4,2158.5 371.9,2151.9 372.5,2168.6 373.0,2159.3 373.5,2168.8 374.1,2160.6 374.6,2147.6 375.1,2159.9 375.7,2161.7 376.2,2173.0 376.7,2149.7 377.3,2160.5 377.8,2139.4 378.3,2169.1 378.9,2147.4 379.4,2138.3 379.9,2160.1 380.5,2174.6 381.0,2141.7 381.5,2147.1 382.1,2151.4 382.6,2146.5 383.2,2165.3 383.7,2150.5 384.2,2151.5 384.8,2167.8 385.3,2151.0 385.8,2165.8 386.4,2148.2 386.9,2145.2 387.4,2137.3 388.0,2183.5 388.5,2156.2 389.0,2163.2 389.6,2159.7 390.1,2162.1 390.6,2160.7 391.2,2183.9 391.7,2147.0 392.2,2140.5 392.8,2147.2 393.3,2143.2 393.8,2169.2 394.4,2170.0 394.9,2147.7 395.4,2142.3 396.0,2155.2 396.5,2177.0 397.0,2124.3 397.6,2166.1 398.1,2146.0 398.6,2172.5 399.2,2145.9 399.7,2155.8 400.2,2140.5 400.8,2147.1 401.3,2176.6 401.8,2169.5 402.4,2154.1 402.9,2148.2 403.5,2135.4 404.0,2154.1 404.5,2158.6 405.1,2157.9 405.6,2157.7 406.1,2144.8 406.7,2158.0 407.2,2158.3 407.7,2174.9 408.3,2182.0 408.8,2156.9 409.3,2149.0 409.9,2157.8 410.4,2150.9 410.9,2149.2 411.5,2157.7 412.0,2145.4 412.5,2165.9 413.1,2157.0 413.6,2161.4 414.1,2153.7 414.7,2149.1 415.2,2146.3 415.7,2155.1 416.3,2151.2 416.8,2160.9 417.3,2157.9 417.9,2140.9 418.4,2158.7 418.9,2141.1 419.5,2150.1 420.0,2154.1 420.5,2131.8 421.1,2158.8 421.6,2159.5 422.1,2155.6 422.7,2152.3 423.2,2152.9 423.8,2145.3 424.3,2154.1 424.8,2150.5 425.4,2158.5 425.9,2142.3 426.4,2160.2 427.0,2159.0 427.5,2155.4 428.0,2151.7 428.6,2164.0 429.1,2136.3 429.6,2162.8 430.2,2160.0 430.7,2160.5 431.2,2161.7 431.8,2148.7 432.3,2153.6 432.8,2164.8 433.4,2162.1 433.9,2159.3 434.4,2137.8 435.0,2163.4 435.5,2171.2 436.0,2169.2 436.6,2159.5 437.1,2137.0 437.6,2168.3 438.2,2154.6 438.7,2124.8 439.2,2161.1 439.8,2137.7 440.3,2140.1 440.8,2148.3 441.4,2172.2 441.9,2151.6 442.4,2159.6 443.0,2178.0 443.5,2176.0 444.1,2154.8 444.6,2153.0 445.1,2140.3 445.7,2147.3 446.2,2161.3 446.7,2160.9 447.3,2157.3 447.8,2168.3 448.3,2146.2 448.9,2155.1 449.4,2164.9 449.9,2163.0 450.5,2169.1 451.0,2165.6 451.5,2151.8 452.1,2160.1 452.6,2143.0 453.1,2135.0 453.7,2162.8 454.2,2154.8 454.7,2159.3 455.3,2134.2 455.8,2150.8 456.3,2147.8 456.9,2144.5 457.4,2127.1 457.9,2151.0 458.5,2166.4 459.0,2159.9 459.5,2147.6 460.1,2154.9 460.6,2164.5 461.1,2120.5 461.7,2153.4 462.2,2161.7 462.8,2163.4 463.3,2176.1 463.8,2169.0 464.4,2158.6 464.9,2158.5 465.4,2164.5 466.0,2147.9 466.5,2154.0 467.0,2177.2 467.6,2178.9 468.1,2152.4 468.6,2153.7 469.2,2156.8 469.7,2171.0 470.2,2153.8 470.8,2172.5 471.3,2142.0 471.8,2151.7 472.4,2151.5 472.9,2163.7 473.4,2166.9 474.0,2134.9 474.5,2142.3 475.0,2157.9 475.6,2145.4 476.1,2134.5 476.6,2166.4 477.2,2159.6 477.7,2159.5 478.2,2147.3 478.8,2166.0 479.3,2150.1 479.8,2166.7 480.4,2141.5 480.9,2142.2 481.4,2155.3 482.0,2143.9 482.5,2161.0 483.1,2155.7 483.6,2140.7 484.1,2153.0 484.7,2147.6 485.2,2163.3 485.7,2143.7 486.3,2146.0 486.8,2166.4 487.3,2179.1 487.9,2175.9 488.4,2151.5 488.9,2153.2 489.5,2169.5 490.0,2148.5 490.5,2137.6 491.1,2151.1 491.6,2155.0 492.1,2138.8 492.7,2128.3 493.2,2130.7 493.7,2156.8 494.3,2138.7 494.8,2146.2 495.3,2150.3 495.9,2155.2 496.4,2143.0 496.9,2153.1 497.5,2135.5 498.0,2141.9 498.5,2133.3 499.1,2160.0 499.6,2145.3 500.1,2136.1 500.7,2140.7 501.2,2142.0 501.7,2153.3 502.3,2124.3 502.8,2131.1 503.4,2139.0 503.9,2175.2 504.4,2155.2 505.0,2141.6 505.5,2151.7 506.0,2168.2 506.6,2139.4 507.1,2137.5 507.6,2157.0 508.2,2147.7 508.7,2149.7 509.2,2134.7 509.8,2164.9 510.3,2162.0 510.8,2147.4 511.4,2148.7 511.9,2114.5 512.4,2147.6 513.0,2136.9 513.5,2144.5 514.0,2147.4 514.6,2134.4 515.1,2117.2 515.6,2142.7 516.2,2128.6 516.7,2133.5 517.2,2129.8 517.8,2132.8 518.3,2079.1 518.8,2151.8 519.4,2139.5 519.9,2149.9 520.4,2160.5 521.0,2135.8 521.5,2112.7 522.0,2123.8 522.6,2119.6 523.1,2128.2 523.7,2135.2 524.2,2108.9 524.7,2137.9 525.3,2114.5 525.8,2136.8 526.3,2131.4 526.9,2128.6 527.4,2131.3 527.9,2125.2 528.5,2124.0 529.0,2110.3 529.5,2130.7 530.1,2153.8 530.6,2155.2 531.1,2146.6 531.7,2138.6 532.2,2121.1 532.7,2147.2 533.3,2128.2 533.8,2127.7 534.3,2124.6 534.9,2129.1 535.4,2122.2 535.9,2126.3 536.5,2113.4 537.0,2122.0 537.5,2183.4 538.1,2125.2 538.6,2122.7 539.1,2132.0 539.7,2133.9 540.2,2110.8 540.7,2121.8 541.3,2135.5 541.8,2127.1 542.3,2124.9 542.9,2142.4 543.4,2114.2 544.0,2123.3 544.5,2115.4 545.0,2140.2 545.6,2096.8 546.1,2112.5 546.6,2113.9 547.2,2128.4 547.7,2127.3 548.2,2136.8 548.8,2099.3 549.3,2128.0 549.8,2110.9 550.4,2101.2 550.9,2124.2 551.4,2105.5 552.0,2090.7 552.5,2111.6 553.0,2078.4 553.6,2107.3 554.1,2119.6 554.6,2118.4 555.2,2134.0 555.7,2111.2 556.2,2094.1 556.8,2093.9 557.3,2100.9 557.8,2096.7 558.4,2116.9 558.9,2102.9 559.4,2085.8 560.0,2118.7 560.5,2108.2 561.0,2113.5 561.6,2109.9 562.1,2115.9 562.6,2108.0 563.2,2137.9 563.7,2111.8 564.3,2110.8 564.8,2110.5 565.3,2086.6 565.9,2102.1 566.4,2100.4 566.9,2105.6 567.5,2085.5 568.0,2122.3 568.5,2102.5 569.1,2085.5 569.6,2078.6 570.1,2095.8 570.7,2097.6 571.2,2089.1 571.7,2098.6 572.3,2088.7 572.8,2103.0 573.3,2086.3 573.9,2094.2 574.4,2106.3 574.9,2125.5 575.5,2080.1 576.0,2086.1 576.5,2080.7 577.1,2100.3 577.6,2075.4 578.1,2083.0 578.7,2088.0 579.2,2075.4 579.7,2074.9 580.3,2080.1 580.8,2059.0 581.3,2066.4 581.9,2078.6 582.4,2084.8 583.0,2079.8 583.5,2059.1 584.0,2074.6 584.6,2089.6 585.1,2085.7 585.6,2076.9 586.2,2065.9 586.7,2084.0 587.2,2068.0 587.8,2059.7 588.3,2063.3 588.8,2090.5 589.4,2074.2 589.9,2084.9 590.4,2063.5 591.0,2080.2 591.5,2059.9 592.0,2064.4 592.6,2096.4 593.1,2073.9 593.6,2056.9 594.2,2061.0 594.7,2065.0 595.2,2074.9 595.8,2052.5 596.3,2035.6 596.8,2052.6 597.4,2054.9 597.9,2054.8 598.4,2068.5 599.0,2054.7 599.5,2059.5 600.0,2034.1 600.6,2057.3 601.1,2071.2 601.6,2053.2 602.2,2045.2 602.7,2042.5 603.3,2061.4 603.8,2026.0 604.3,2034.7 604.9,2040.3 605.4,2042.4 605.9,2026.1 606.5,2033.9 607.0,2025.1 607.5,2028.6 608.1,2024.0 608.6,2009.9 609.1,2022.4 609.7,2032.2 610.2,2007.7 610.7,2015.3 611.3,2025.2 611.8,2002.0 612.3,2016.1 612.9,1999.1 613.4,2024.9 613.9,2038.0 614.5,2032.8 615.0,2003.0 615.5,2013.3 616.1,2003.7 616.6,2001.6 617.1,2017.8 617.7,1979.9 618.2,2007.5 618.7,1991.4 619.3,2007.3 619.8,1989.5 620.3,1976.2 620.9,1985.4 621.4,1988.5 621.9,1976.9 622.5,1979.7 623.0,1957.7 623.6,1941.2 624.1,1987.4 624.6,1970.7 625.2,1960.9 625.7,1957.0 626.2,1966.1 626.8,1944.4 627.3,1938.2 627.8,1941.6 628.4,1955.6 628.9,1920.2 629.4,1949.2 630.0,1923.0 630.5,1914.0 631.0,1940.2 631.6,1918.7 632.1,1901.6 632.6,1910.0 633.2,1922.8 633.7,1922.8 634.2,1899.3 634.8,1906.4 635.3,1906.9 635.8,1886.6 636.4,1895.7 636.9,1887.5 637.4,1877.8 638.0,1875.0 638.5,1878.6 639.0,1874.7 639.6,1863.8 640.1,1862.1 640.6,1877.9 641.2,1863.2 641.7,1868.1 642.2,1868.5 642.8,1857.3 643.3,1874.8 643.9,1832.4 644.4,1849.2 644.9,1831.5 645.5,1855.1 646.0,1849.5 646.5,1775.8 647.1,1808.9 647.6,1825.8 648.1,1823.9 648.7,1828.9 649.2,1806.2 649.7,1809.4 650.3,1808.5 650.8,1795.9 651.3,1806.4 651.9,1761.9 652.4,1794.7 652.9,1770.5 653.5,1804.1 654.0,1774.0 654.5,1762.6 655.1,1775.2 655.6,1756.1 656.1,1753.1 656.7,1742.1 657.2,1758.6 657.7,1762.5 658.3,1766.4 658.8,1749.2 659.3,1761.5 659.9,1746.1 660.4,1742.3 660.9,1748.2 661.5,1751.9 662.0,1732.1 662.5,1731.1 663.1,1730.0 663.6,1730.9 664.2,1716.7 664.7,1738.9 665.2,1719.2 665.8,1728.2 666.3,1710.2 666.8,1723.2 667.4,1721.7 667.9,1709.6 668.4,1738.2 669.0,1715.8 669.5,1731.6 670.0,1719.7 670.6,1697.9 671.1,1699.9 671.6,1708.9 672.2,1703.1 672.7,1702.0 673.2,1697.1 673.8,1692.0 674.3,1690.5 674.8,1692.0 675.4,1705.9 675.9,1693.9 676.4,1696.4 677.0,1702.9 677.5,1715.2 678.0,1697.7 678.6,1697.8 679.1,1710.7 679.6,1702.9 680.2,1720.9 680.7,1757.3 681.2,1728.6 681.8,1754.6 682.3,1734.5 682.9,1761.0 683.4,1759.2 683.9,1768.7 684.5,1783.1 685.0,1804.8 685.5,1792.3 686.1,1798.6 686.6,1792.2 687.1,1819.5 687.7,1817.5 688.2,1839.6 688.7,1837.8 689.3,1869.4 689.8,1832.4 690.3,1863.2 690.9,1887.7 691.4,1882.2 691.9,1886.5 692.5,1903.4 693.0,1900.1 693.5,1929.7 694.1,1969.7 694.6,1964.6 695.1,1947.5 695.7,1961.3 696.2,1977.8 696.7,2005.8 697.3,1992.9 697.8,2004.0 698.3,2033.0 698.9,2041.7 699.4,2030.5 699.9,2034.9 700.5,2038.5 701.0,2058.4 701.5,2048.9 702.1,2096.1 702.6,2089.5 703.2,2114.8 703.7,2144.3 704.2,2148.1 704.8,2117.3 705.3,2169.5 705.8,2185.2 706.4,2172.9 706.9,2180.9 707.4,2200.9 708.0,2190.7 708.5,2236.8 709.0,2195.5 709.6,2218.5 710.1,2235.6 710.6,2242.7 711.2,2254.4 711.7,2262.9 712.2,2261.5 712.8,2288.6 713.3,2255.2 713.8,2289.4 714.4,2287.6 714.9,2304.8 715.4,2311.9 716.0,2303.6 716.5,2312.7 717.0,2336.1 717.6,2340.2 718.1,2327.6 718.6,2365.7 719.2,2372.4 719.7,2327.8 720.2,2356.0 720.8,2382.2 721.3,2363.0 721.8,2358.1 722.4,2354.8 722.9,2352.6 723.5,2358.6 724.0,2356.0 724.5,2373.7 725.1,2360.7 725.6,2361.3 726.1,2391.5 726.7,2367.2 727.2,2357.7 727.7,2366.8 728.3,2382.0 728.8,2373.4 729.3,2374.9 729.9,2372.7 730.4,2368.5 730.9,2365.6 731.5,2362.7 732.0,2375.3 732.5,2351.5 733.1,2380.9 733.6,2363.7 734.1,2353.0 734.7,2355.2 735.2,2351.9 735.7,2361.3 736.3,2349.3 736.8,2371.4 737.3,2346.3 737.9,2326.6 738.4,2344.8 738.9,2327.6 739.5,2350.9 740.0,2363.1 740.5,2356.5 741.1,2330.0 741.6,2335.5 742.1,2365.5 742.7,2345.4 743.2,2339.6 743.8,2350.8 744.3,2366.3 744.8,2349.9 745.4,2333.4 745.9,2334.1 746.4,2335.3 747.0,2317.7 747.5,2309.9 748.0,2321.4 748.6,2306.5 749.1,2315.1 749.6,2314.5 750.2,2340.0 750.7,2286.9 751.2,2304.0 751.8,2300.8 752.3,2305.6 752.8,2310.6 753.4,2288.7 753.9,2281.9 754.4,2268.9 755.0,2275.2 755.5,2290.7 756.0,2281.8 756.6,2265.8 757.1,2271.0 757.6,2273.2 758.2,2276.2 758.7,2259.6 759.2,2261.0 759.8,2238.5 760.3,2243.9 760.8,2275.5 761.4,2224.9 761.9,2245.0 762.4,2249.0 763.0,2238.4 763.5,2229.9 764.1,2236.0 764.6,2233.5 765.1,2229.3 765.7,2203.6 766.2,2222.0 766.7,2209.9 767.3,2210.5 767.8,2216.9 768.3,2218.8 768.9,2218.8 769.4,2198.1 769.9,2212.7 770.5,2212.5 771.0,2208.8 771.5,2208.6 772.1,2186.1 772.6,2182.4 773.1,2191.6 773.7,2160.9 774.2,2177.3 774.7,2164.8 775.3,2163.6 775.8,2143.3 776.3,2150.9 776.9,2158.8 777.4,2167.2 777.9,2165.7 778.5,2149.8 779.0,2146.0 779.5,2135.6 780.1,2148.7 780.6,2138.3 781.1,2146.7 781.7,2158.7 782.2,2134.0 782.7,2113.2 783.3,2118.4 783.8,2108.0 784.4,2093.1 784.9,2135.9 785.4,2118.5 786.0,2092.5 786.5,2115.3 787.0,2134.0 787.6,2093.1 788.1,2084.2 788.6,2083.4 789.2,2086.1 789.7,2085.4 790.2,2087.2 790.8,2082.6 791.3,2077.4 791.8,2074.9 792.4,2061.7 792.9,2029.8 793.4,2042.8 794.0,2043.9 794.5,2030.6 795.0,2042.3 795.6,2022.0 796.1,2010.5 796.6,2035.8 797.2,2021.8 797.7,2012.0 798.2,2016.7 798.8,2014.3 799.3,2001.4 799.8,1962.6 800.4,1981.2 800.9,1980.4 801.4,1970.4 802.0,1981.9 802.5,1991.1 803.1,1967.0 803.6,1955.8 804.1,1992.3 804.7,1958.2 805.2,1945.4 805.7,1960.8 806.3,1960.0 806.8,1942.8 807.3,1958.2 807.9,1939.0 808.4,1930.2 808.9,1940.5 809.5,1944.4 810.0,1915.4 810.5,1931.9 811.1,1923.0 811.6,1955.9 812.1,1908.1 812.7,1930.7 813.2,1909.1 813.7,1904.5 814.3,1911.5 814.8,1910.1 815.3,1911.1 815.9,1895.8 816.4,1880.6 816.9,1877.8 817.5,1887.3 818.0,1884.5 818.5,1891.0 819.1,1875.1 819.6,1879.5 820.1,1881.5 820.7,1861.0 821.2,1836.8 821.7,1822.3 822.3,1830.4 822.8,1864.8 823.4,1831.0 823.9,1853.7 824.4,1842.4 825.0,1853.2 825.5,1841.1 826.0,1824.0 826.6,1819.5 827.1,1819.9 827.6,1817.9 828.2,1806.0 828.7,1809.2 829.2,1826.8 829.8,1782.7 830.3,1804.5 830.8,1787.4 831.4,1798.8 831.9,1804.8 832.4,1791.4 833.0,1799.6 833.5,1767.8 834.0,1799.3 834.6,1775.7 835.1,1788.9 835.6,1781.5 836.2,1764.5 836.7,1766.4 837.2,1777.3 837.8,1792.9 838.3,1776.4 838.8,1763.0 839.4,1764.5 839.9,1790.9 840.4,1796.3 841.0,1775.0 841.5,1773.1 842.0,1764.5 842.6,1790.0 843.1,1814.6 843.7,1791.7 844.2,1800.7 844.7,1793.9 845.3,1777.1 845.8,1808.4 846.3,1778.7 846.9,1794.0 847.4,1803.2 847.9,1814.2 848.5,1812.2 849.0,1816.1 849.5,1806.3 850.1,1804.6 850.6,1826.6 851.1,1822.3 851.7,1820.4 852.2,1826.6 852.7,1842.1 853.3,1831.0 853.8,1843.9 854.3,1847.5 854.9,1877.8 855.4,1888.7 855.9,1917.1 856.5,1881.9 857.0,1900.9 857.5,1929.6 858.1,1924.2 858.6,1931.5 859.1,1965.9 859.7,1945.2 860.2,1948.5 860.7,1956.0 861.3,1986.2 861.8,1995.4 862.3,1984.0 862.9,1998.3 863.4,2026.8 864.0,2036.3 864.5,2028.7 865.0,2051.4 865.6,2057.2 866.1,2034.4 866.6,2060.1 867.2,2077.9 867.7,2076.0 868.2,2069.2 868.8,2108.1 869.3,2155.7 869.8,2225.6 870.4,2209.1 870.9,2284.9 871.4,2250.5 872.0,2286.4 872.5,2298.2 873.0,2302.8 873.6,2300.5 874.1,2293.7 874.6,2326.9 875.2,2321.0 875.7,2309.4 876.2,2387.3 876.8,2371.6 877.3,2396.0 877.8,2372.0 878.4,2411.5 878.9,2422.4 879.4,2431.1 880.0,2420.3 880.5,2414.3 881.0,2435.8 881.6,2419.0 882.1,2433.8 882.6,2464.7 883.2,2459.5 883.7,2478.2 884.3,2487.1 884.8,2520.7 885.3,2520.8 885.9,2511.9 886.4,2535.5 886.9,2518.8 887.5,2528.3 888.0,2556.1 888.5,2537.0 889.1,2556.2 889.6,2549.7 890.1,2573.4 890.7,2597.9 891.2,2573.8 891.7,2591.6 892.3,2583.0 892.8,2584.9 893.3,2588.4 893.9,2621.5 894.4,2621.5 894.9,2618.7 895.5,2604.5 896.0,2623.0 896.5,2608.1 897.1,2620.6 897.6,2612.1 898.1,2609.4 898.7,2610.6 899.2,2592.6 899.7,2591.6 900.3,2571.8 900.8,2584.5 901.3,2569.1 901.9,2582.2 902.4,2569.3 903.0,2579.8 903.5,2581.5 904.0,2555.3 904.6,2560.1 905.1,2555.7 905.6,2573.9 906.2,2583.0 906.7,2569.3 907.2,2551.2 907.8,2570.7 908.3,2511.2 908.8,2583.2 909.4,2534.0 909.9,2503.8 910.4,2567.7 911.0,2550.2 911.5,2513.1 912.0,2523.5 912.6,2513.9 913.1,2512.9 913.6,2488.0 914.2,2492.9 914.7,2502.1 915.2,2493.8 915.8,2500.9 916.3,2481.8 916.8,2505.2 917.4,2462.1 917.9,2469.6 918.4,2437.7 919.0,2441.3 919.5,2468.8 920.0,2435.7 920.6,2449.4 921.1,2437.2 921.6,2420.3 922.2,2424.4 922.7,2417.8 923.3,2413.7 923.8,2425.0 924.3,2419.5 924.9,2400.2 925.4,2392.2 925.9,2403.5 926.5,2395.3 927.0,2406.1 927.5,2423.3 928.1,2397.7 928.6,2383.4 929.1,2379.2 929.7,2367.9 930.2,2364.5 930.7,2360.5 931.3,2365.2 931.8,2361.9 932.3,2373.6 932.9,2356.2 933.4,2355.5 933.9,2339.3 934.5,2371.5 935.0,2353.6 935.5,2365.8 936.1,2349.6 936.6,2354.3 937.1,2328.5 937.7,2336.6 938.2,2357.3 938.7,2304.1 939.3,2330.0 939.8,2332.5 940.3,2317.8 940.9,2312.9 941.4,2315.4 941.9,2287.2 942.5,2297.3 943.0,2277.7 943.6,2277.0 944.1,2274.6 944.6,2277.7 945.2,2278.3 945.7,2279.0 946.2,2251.8 946.8,2291.7 947.3,2277.4 947.8,2267.8 948.4,2249.4 948.9,2247.9 949.4,2250.6 950.0,2240.5 950.5,2207.7 951.0,2235.2 951.6,2260.0 952.1,2196.3 952.6,2230.4 953.2,2220.4 953.7,2212.5 954.2,2229.9 954.8,2195.7 955.3,2211.5 955.8,2226.6 956.4,2203.8 956.9,2199.2 957.4,2204.0 958.0,2194.6 958.5,2217.5 959.0,2183.3 959.6,2203.2 960.1,2172.9 960.6,2194.4 961.2,2181.2 961.7,2146.0 962.2,2175.7 962.8,2158.5 963.3,2162.9 963.9,2184.7 964.4,2146.5 964.9,2142.9 965.5,2170.5 966.0,2148.8 966.5,2162.6 967.1,2142.5 967.6,2122.9 968.1,2129.6 968.7,2142.9 969.2,2136.4 969.7,2121.7 970.3,2119.9 970.8,2115.5 971.3,2107.4 971.9,2137.6 972.4,2110.9 972.9,2094.3 973.5,2100.8 974.0,2114.4 974.5,2111.4 975.1,2099.5 975.6,2090.6 976.1,2097.4 976.7,2073.4 977.2,2075.8 977.7,2100.4 978.3,2081.6 978.8,2090.0 979.3,2098.3 979.9,2088.5 980.4,2077.8 980.9,2102.3 981.5,2080.9 982.0,2065.2 982.5,2076.7 983.1,2070.0 983.6,2051.3 984.2,2060.8 984.7,2053.3 985.2,2030.0 985.8,2050.8 986.3,2047.2 986.8,2043.0 987.4,2025.4 987.9,2039.8 988.4,2041.8 989.0,2041.5 989.5,2023.5 990.0,2044.1 990.6,2018.3 991.1,2029.0 991.6,2046.5 992.2,2018.7 992.7,2018.9 993.2,2037.1 993.8,2016.3 994.3,2015.2 994.8,2019.7 995.4,2028.2 995.9,1984.2 996.4,1999.8 997.0,1995.3 997.5,1992.2 998.0,1993.0 998.6,1991.1 999.1,2003.6 999.6,1986.2 1000.2,1997.1 1000.7,1998.6 1001.2,1981.8 1001.8,1990.4 1002.3,2007.1 1002.8,1987.6 1003.4,1964.5 1003.9,1977.5 1004.5,1964.3 1005.0,1977.4 1005.5,1983.2 1006.1,1960.3 1006.6,1952.5 1007.1,1983.8 1007.7,1963.6 1008.2,1973.5 1008.7,1959.8 1009.3,1964.7 1009.8,1971.4 1010.3,2008.2 1010.9,1979.2 1011.4,1981.2 1011.9,1984.3 1012.5,1992.7 1013.0,2006.2 1013.5,2003.3 1014.1,2029.4 1014.6,2008.9 1015.1,2026.8 1015.7,2014.6 1016.2,2021.1 1016.7,1997.9 1017.3,2016.9 1017.8,2020.2 1018.3,2020.6 1018.9,1999.6 1019.4,2040.4 1019.9,2027.7 1020.5,2030.4 1021.0,2036.3 1021.5,2040.6 1022.1,2052.7 1022.6,2036.1 1023.2,2033.3 1023.7,2065.0 1024.2,2068.1 1024.8,2066.6 1025.3,2069.4 1025.8,2071.4 1026.4,2086.4 1026.9,2107.2 1027.4,2084.6 1028.0,2122.4 1028.5,2119.7 1029.0,2109.3 1029.6,2130.8 1030.1,2108.9 1030.6,2112.0 1031.2,2124.0 1031.7,2141.7 1032.2,2149.6 1032.8,2154.2 1033.3,2168.9 1033.8,2148.0 1034.4,2188.2 1034.9,2171.8 1035.4,2189.2 1036.0,2200.6 1036.5,2200.1 1037.0,2206.7 1037.6,2221.2 1038.1,2246.1 1038.6,2269.7 1039.2,2287.6 1039.7,2287.1 1040.2,2308.1 1040.8,2323.0 1041.3,2353.5 1041.8,2331.2 1042.4,2374.4 1042.9,2320.2 1043.5,2322.6 1044.0,2350.7 1044.5,2378.4 1045.1,2391.1 1045.6,2420.5 1046.1,2426.1 1046.7,2451.8 1047.2,2462.9 1047.7,2456.3 1048.3,2485.0 1048.8,2478.0 1049.3,2485.4 1049.9,2480.8 1050.4,2496.5 1050.9,2517.1 1051.5,2497.8 1052.0,2536.9 1052.5,2531.3 1053.1,2536.4 1053.6,2511.4 1054.1,2543.7 1054.7,2559.2 1055.2,2548.0 1055.7,2565.3 1056.3,2541.4 1056.8,2586.5 1057.3,2576.8 1057.9,2602.8 1058.4,2575.4 1058.9,2613.3 1059.5,2607.6 1060.0,2626.9 1060.5,2611.8 1061.1,2622.2 1061.6,2664.2 1062.1,2621.1 1062.7,2637.9 1063.2,2646.9 1063.8,2639.8 1064.3,2664.5 1064.8,2666.0 1065.4,2643.8 1065.9,2630.5 1066.4,2664.5 1067.0,2664.5 1067.5,2660.3 1068.0,2663.8 1068.6,2637.8 1069.1,2645.9 1069.6,2630.0 1070.2,2628.8 1070.7,2658.1 1071.2,2636.6 1071.8,2664.5 1072.3,2644.1 1072.8,2634.2 1073.4,2651.2 1073.9,2662.6 1074.4,2644.9 1075.0,2622.4 1075.5,2640.8 1076.0,2651.7 1076.6,2626.5 1077.1,2620.9 1077.6,2641.0 1078.2,2627.6 1078.7,2609.4 1079.2,2615.5 1079.8,2607.8 1080.3,2617.8 1080.8,2612.1 1081.4,2621.4 1081.9,2611.1 1082.4,2557.5 1083.0,2595.4 1083.5,2595.1 1084.1,2583.0 1084.6,2584.0 1085.1,2558.5 1085.7,2548.6 1086.2,2568.3 1086.7,2540.0 1087.3,2523.5 1087.8,2560.6 1088.3,2536.3 1088.9,2539.3 1089.4,2523.4 1089.9,2522.0 1090.5,2521.7 1091.0,2529.0 1091.5,2535.3 1092.1,2498.7 1092.6,2533.2 1093.1,2505.1 1093.7,2502.3 1094.2,2519.6 1094.7,2505.5 1095.3,2482.4 1095.8,2519.7 1096.3,2480.9 1096.9,2489.8 1097.4,2484.3 1097.9,2494.6 1098.5,2466.5 1099.0,2480.2 1099.5,2453.8 1100.1,2472.5 1100.6,2444.2 1101.1,2444.5 1101.7,2468.1 1102.2,2443.6 1102.7,2436.4 1103.3,2458.5 1103.8,2430.4 1104.4,2411.3 1104.9,2426.4 1105.4,2398.4 1106.0,2423.3 1106.5,2420.5 1107.0,2394.7 1107.6,2390.7 1108.1,2399.8 1108.6,2392.6 1109.2,2377.3 1109.7,2393.9 1110.2,2358.6 1110.8,2376.1 1111.3,2373.9 1111.8,2373.0 1112.4,2377.7 1112.9,2356.0 1113.4,2376.0 1114.0,2363.7 1114.5,2355.0 1115.0,2343.1 1115.6,2342.3 1116.1,2358.3 1116.6,2338.3 1117.2,2347.2 1117.7,2354.9 1118.2,2349.6 1118.8,2351.4 1119.3,2324.1 1119.8,2311.2 1120.4,2334.8 1120.9,2323.4 1121.4,2331.2 1122.0,2315.1 1122.5,2327.8 1123.1,2321.4 1123.6,2317.9 1124.1,2313.5 1124.7,2310.4 1125.2,2306.7 1125.7,2305.1 1126.3,2313.1 1126.8,2292.8 1127.3,2319.3 1127.9,2294.8 1128.4,2307.0 1128.9,2292.3 1129.5,2289.1 1130.0,2316.4 1130.5,2286.0 1131.1,2272.7 1131.6,2278.7 1132.1,2282.5 1132.7,2312.3 1133.2,2286.8 1133.7,2294.7 1134.3,2269.2 1134.8,2284.7 1135.3,2287.3 1135.9,2299.8 1136.4,2266.9 1136.9,2281.2 1137.5,2275.5 1138.0,2256.9 1138.5,2267.3 1139.1,2262.1 1139.6,2234.3 1140.1,2268.8 1140.7,2266.0 1141.2,2251.9 1141.7,2239.0 1142.3,2272.6 1142.8,2255.9 1143.4,2263.8 1143.9,2267.2 1144.4,2241.6 1145.0,2256.9 1145.5,2242.4 1146.0,2243.3 1146.6,2241.8 1147.1,2241.7 1147.6,2254.6 1148.2,2241.3 1148.7,2236.9 1149.2,2234.6 1149.8,2241.6 1150.3,2225.4 1150.8,2229.6 1151.4,2233.9 1151.9,2227.5 1152.4,2232.4 1153.0,2225.7 1153.5,2257.8 1154.0,2248.7 1154.6,2237.2 1155.1,2230.4 1155.6,2257.9 1156.2,2234.0 1156.7,2228.4 1157.2,2232.8 1157.8,2232.3 1158.3,2245.7 1158.8,2227.4 1159.4,2253.4 1159.9,2215.7 1160.4,2235.0 1161.0,2213.3 1161.5,2248.1 1162.0,2220.9 1162.6,2223.8 1163.1,2235.7 1163.7,2239.4 1164.2,2209.4 1164.7,2218.6 1165.3,2205.0 1165.8,2223.8 1166.3,2220.4 1166.9,2216.9 1167.4,2212.3 1167.9,2215.7 1168.5,2210.8 1169.0,2226.4 1169.5,2238.4 1170.1,2194.9 1170.6,2217.3 1171.1,2213.1 1171.7,2224.2 1172.2,2205.8 1172.7,2215.5 1173.3,2204.0 1173.8,2225.4 1174.3,2217.6 1174.9,2214.0 1175.4,2220.3 1175.9,2212.3 1176.5,2195.6 1177.0,2222.1 1177.5,2217.9 1178.1,2210.1 1178.6,2226.0 1179.1,2228.5 1179.7,2199.3 1180.2,2202.8 1180.7,2231.6 1181.3,2229.6 1181.8,2202.2 1182.3,2196.3 1182.9,2202.7 1183.4,2204.0 1184.0,2190.1 1184.5,2209.9 1185.0,2193.1 1185.6,2193.5 1186.1,2219.7 1186.6,2199.3 1187.2,2206.5 1187.7,2214.9 1188.2,2216.8 1188.8,2202.0 1189.3,2206.3 1189.8,2195.0 1190.4,2226.8 1190.9,2212.7 1191.4,2190.4 1192.0,2203.8 1192.5,2212.3 1193.0,2215.0 1193.6,2225.5 1194.1,2219.4 1194.6,2195.1 1195.2,2200.4 1195.7,2185.1 1196.2,2203.9 1196.8,2202.3 1197.3,2233.9 1197.8,2201.0 1198.4,2173.4 1198.9,2190.8 1199.4,2201.7 1200.0,2183.0 1200.5,2187.5 1201.0,2193.5 1201.6,2202.1 1202.1,2195.5 1202.6,2186.2 1203.2,2206.9 1203.7,2190.0 1204.3,2190.3 1204.8,2179.0 1205.3,2186.2 1205.9,2203.9 1206.4,2175.3 1206.9,2194.4 1207.5,2204.0 1208.0,2190.1 1208.5,2197.6 1209.1,2180.4 1209.6,2210.5 1210.1,2207.7 1210.7,2196.7 1211.2,2171.6 1211.7,2180.2 1212.3,2205.3 1212.8,2214.3 1213.3,2196.4 1213.9,2208.1 1214.4,2184.7 1214.9,2189.7 1215.5,2191.9 1216.0,2197.0 1216.5,2172.5 1217.1,2203.2 1217.6,2207.8 1218.1,2176.7 1218.7,2173.9 1219.2,2195.1 1219.7,2182.4 1220.3,2160.8 1220.8,2200.3 1221.3,2192.0 1221.9,2184.0 1222.4,2216.2 1222.9,2193.1 1223.5,2180.0 1224.0,2190.6 1224.6,2176.1 1225.1,2179.5 1225.6,2193.7 1226.2,2181.8 1226.7,2182.9 1227.2,2209.3 1227.8,2209.8 1228.3,2198.2 1228.8,2194.6 1229.4,2193.9 1229.9,2205.9 1230.4,2187.3 1231.0,2210.6 1231.5,2175.4 1232.0,2184.0 1232.6,2169.8 1233.1,2182.6 1233.6,2193.3 1234.2,2204.8 1234.7,2178.3 1235.2,2186.5 1235.8,2181.8 1236.3,2177.0 1236.8,2171.2 1237.4,2186.7 1237.9,2164.2 1238.4,2187.1 1239.0,2185.9 1239.5,2177.3 1240.0,2172.8 1240.6,2168.0 1241.1,2208.6 1241.6,2168.3 1242.2,2204.5 1242.7,2192.4 1243.3,2180.2 1243.8,2170.2 1244.3,2197.6 1244.9,2206.1 1245.4,2172.7 1245.9,2180.5 1246.5,2197.3 1247.0,2192.5 1247.5,2209.0 1248.1,2176.8 1248.6,2190.6 1249.1,2168.0 1249.7,2209.8 1250.2,2165.2 1250.7,2155.8 1251.3,2181.7 1251.8,2181.5 1252.3,2231.0 1252.9,2178.8 1253.4,2182.8 1253.9,2190.2 1254.5,2202.6 1255.0,2181.8 1255.5,2195.5 1256.1,2188.9 1256.6,2178.7 1257.1,2183.3 1257.7,2182.6 1258.2,2170.7 1258.7,2197.2 1259.3,2164.6 1259.8,2196.5 1260.3,2193.7 1260.9,2180.6 1261.4,2172.1 1261.9,2178.7 1262.5,2187.4 1263.0,2190.7 1263.6,2184.9 1264.1,2193.7 1264.6,2174.3 1265.2,2184.1 1265.7,2161.5 1266.2,2190.6 1266.8,2182.9 1267.3,2175.7 1267.8,2195.4 1268.4,2189.5 1268.9,2145.6 1269.4,2181.3 1270.0,2162.5 1270.5,2194.0 1271.0,2211.8 1271.6,2174.1 1272.1,2181.5 1272.6,2177.4 1273.2,2184.9 1273.7,2188.5 1274.2,2196.5 1274.8,2168.1 1275.3,2200.0 1275.8,2168.7 1276.4,2183.8 1276.9,2194.8 1277.4,2189.2 1278.0,2168.5 1278.5,2171.5 1279.0,2174.4 1279.6,2179.5 1280.1,2194.5 1280.6,2164.0 1281.2,2186.0 1281.7,2187.7 1282.2,2187.1 1282.8,2185.9 1283.3,2199.0 1283.9,2186.1 1284.4,2190.7 1284.9,2187.0 1285.5,2202.4 1286.0,2156.2 1286.5,2195.9 1287.1,2176.6 1287.6,2176.4 1288.1,2167.7 1288.7,2156.5 1289.2,2175.0 1289.7,2171.2 1290.3,2186.0 1290.8,2161.4 1291.3,2197.6 1291.9,2183.1 1292.4,2176.6 1292.9,2170.8 1293.5,2169.8 1294.0,2165.5 1294.5,2172.8 1295.1,2179.7 1295.6,2177.4 1296.1,2161.9 1296.7,2176.2 1297.2,2168.3 1297.7,2181.5 1298.3,2202.8 1298.8,2187.2 1299.3,2175.5 1299.9,2159.1 1300.4,2161.7 1300.9,2158.2 1301.5,2188.4 1302.0,2169.7 1302.5,2180.0 1303.1,2171.4 1303.6,2180.3 1304.2,2196.7 1304.7,2170.5 1305.2,2174.8 1305.8,2169.0 1306.3,2189.9 1306.8,2166.1 1307.4,2164.8 1307.9,2161.6 1308.4,2161.3 1309.0,2184.7 1309.5,2210.9 1310.0,2166.3 1310.6,2190.6 1311.1,2181.8 1311.6,2164.9 1312.2,2175.1 1312.7,2175.7 1313.2,2169.9 1313.8,2202.6 1314.3,2154.6 1314.8,2183.2 1315.4,2182.5 1315.9,2163.8 1316.4,2180.2 1317.0,2189.2 1317.5,2180.1 1318.0,2183.4 1318.6,2186.8 1319.1,2152.7 1319.6,2196.5 1320.2,2206.5 1320.7,2190.2 1321.2,2190.6 1321.8,2160.3 1322.3,2174.9 1322.8,2167.6 1323.4,2170.4 1323.9,2189.8 1324.5,2167.6 1325.0,2176.0 1325.5,2153.7 1326.1,2175.5 1326.6,2178.6 1327.1,2168.6 1327.7,2168.4 1328.2,2200.9 1328.7,2162.2 1329.3,2164.1 1329.8,2167.1 1330.3,2192.1 1330.9,2203.4 1331.4,2181.2 1331.9,2168.1 1332.5,2171.6 1333.0,2190.2 1333.5,2165.5 1334.1,2213.2 1334.6,2194.5 1335.1,2177.6 1335.7,2184.8 1336.2,2186.0 1336.7,2196.0 1337.3,2163.4 1337.8,2191.3 1338.3,2171.8 1338.9,2166.8 1339.4,2177.6 1339.9,2173.6 1340.5,2163.9 1341.0,2156.3 1341.5,2164.4 1342.1,2194.3 1342.6,2200.6 1343.2,2184.2 1343.7,2190.8 1344.2,2169.5 1344.8,2174.9 1345.3,2182.9 1345.8,2162.3 1346.4,2163.4 1346.9,2176.9 1347.4,2171.6 1348.0,2162.3 1348.5,2180.4 1349.0,2172.2 1349.6,2188.2 1350.1,2175.3 1350.6,2171.6 1351.2,2176.9 1351.7,2173.1 1352.2,2166.9 1352.8,2170.1 1353.3,2184.5 1353.8,2183.2 1354.4,2191.1 1354.9,2153.8 1355.4,2170.0 1356.0,2169.7 1356.5,2177.0 1357.0,2169.1 1357.6,2168.3 1358.1,2184.5 1358.6,2176.9 1359.2,2160.0 1359.7,2191.2 1360.2,2187.0 1360.8,2167.3 1361.3,2184.8 1361.8,2165.2 1362.4,2188.4 1362.9,2171.6 1363.5,2164.2 1364.0,2169.5 1364.5,2164.6 1365.1,2176.5 1365.6,2176.3 1366.1,2174.5 1366.7,2167.0 1367.2,2128.2 1367.7,2175.1 1368.3,2150.2 1368.8,2176.9 1369.3,2187.9 1369.9,2177.2 1370.4,2168.8 1370.9,2171.4 1371.5,2171.9 1372.0,2166.7 1372.5,2166.2 1373.1,2161.9 1373.6,2188.3 1374.1,2173.2 1374.7,2185.3 1375.2,2170.2 1375.7,2174.2 1376.3,2171.1 1376.8,2179.0 1377.3,2183.5 1377.9,2176.1 1378.4,2156.3 1378.9,2163.3 1379.5,2193.8 1380.0,2169.5 1380.5,2165.7 1381.1,2191.2 1381.6,2186.5 1382.1,2179.5 1382.7,2167.8 1383.2,2202.2 1383.8,2177.7 1384.3,2179.6 1384.8,2170.6 1385.4,2155.0 1385.9,2156.0 1386.4,2177.7 1387.0,2177.5 1387.5,2169.5 1388.0,2157.9 1388.6,2154.5 1389.1,2168.4 1389.6,2154.2 1390.2,2183.6 1390.7,2186.8 1391.2,2207.7 1391.8,2194.3 1392.3,2164.9 1392.8,2161.4 1393.4,2129.1 1393.9,2164.8 1394.4,2170.0 1395.0,2184.3 1395.5,2179.8 1396.0,2179.5 1396.6,2174.8 1397.1,2180.4 1397.6,2190.2 1398.2,2158.7 1398.7,2166.3 1399.2,2154.7 1399.8,2192.2 1400.3,2188.2 1400.8,2181.4 1401.4,2157.0 1401.9,2174.1 1402.4,2169.0 1403.0,2172.9 1403.5,2169.5 1404.1,2178.4 1404.6,2166.9 1405.1,2182.5 1405.7,2174.8 1406.2,2168.1 1406.7,2170.4 1407.3,2166.3 1407.8,2192.1 1408.3,2168.3 1408.9,2179.1 1409.4,2166.8 1409.9,2153.1 1410.5,2183.0 1411.0,2158.4 1411.5,2180.1 1412.1,2176.9 1412.6,2150.9 1413.1,2159.8 1413.7,2165.2 1414.2,2161.3 1414.7,2156.8 1415.3,2180.8 1415.8,2168.5 1416.3,2176.3 1416.9,2166.1 1417.4,2175.3 1417.9,2162.1 1418.5,2171.1 1419.0,2178.7 1419.5,2172.0 1420.1,2165.7 1420.6,2157.8 1421.1,2173.5 1421.7,2175.7 1422.2,2168.1 1422.7,2161.7 1423.3,2178.1 1423.8,2202.3 1424.4,2167.5 1424.9,2175.5 1425.4,2176.0 1426.0,2139.1 1426.5,2172.8 1427.0,2162.4 1427.6,2188.5 1428.1,2168.0 1428.6,2161.4 1429.2,2168.4 1429.7,2173.2 1430.2,2164.1 1430.8,2170.4 1431.3,2154.1 1431.8,2168.2 1432.4,2180.7 1432.9,2195.6 1433.4,2179.8 1434.0,2174.4 1434.5,2185.8 1435.0,2183.7 1435.6,2191.8 1436.1,2184.5 1436.6,2169.5 1437.2,2174.1 1437.7,2173.1 1438.2,2174.7 1438.8,2173.4 1439.3,2161.1 1439.8,2144.6 1440.4,2162.4 1440.9,2145.5 1441.4,2172.5 1442.0,2170.9 1442.5,2149.8 1443.0,2179.4 1443.6,2181.6 1444.1,2171.9 1444.7,2191.6 1445.2,2194.1 1445.7,2155.6 1446.3,2183.7 1446.8,2176.2 1447.3,2175.9 1447.9,2182.3 1448.4,2161.7 1448.9,2163.2 1449.5,2160.3 1450.0,2161.2 1450.5,2169.4 1451.1,2152.4 1451.6,2144.4 1452.1,2177.8 1452.7,2169.7 1453.2,2175.3 1453.7,2146.9 1454.3,2160.7 1454.8,2163.6 1455.3,2170.9 1455.9,2163.2 1456.4,2182.1 1456.9,2169.7 1457.5,2170.7 1458.0,2170.6 1458.5,2179.3 1459.1,2164.5 1459.6,2184.4 1460.1,2176.2 1460.7,2172.3 1461.2,2170.9 1461.7,2176.9 1462.3,2183.1 1462.8,2182.2 1463.4,2175.0 1463.9,2192.3 1464.4,2171.8 1465.0,2186.0 1465.5,2170.0 1466.0,2144.4 1466.6,2187.0 1467.1,2171.6 1467.6,2155.6 1468.2,2167.8 1468.7,2159.2 1469.2,2196.5 1469.8,2176.5 1470.3,2150.6 1470.8,2177.0 1471.4,2165.2 1471.9,2194.2 1472.4,2157.0 1473.0,2114.0 1473.5,2171.0 1474.0,2161.5 1474.6,2165.0 1475.1,2143.4 1475.6,2175.5 1476.2,2191.1 1476.7,2146.3 1477.2,2199.4 1477.8,2163.0 1478.3,2199.5 1478.8,2175.6 1479.4,2167.8 1479.9,2183.9 1480.4,2176.7 1481.0,2162.7 1481.5,2179.0 1482.0,2163.7 1482.6,2147.7 1483.1,2195.5 1483.7,2165.7 1484.2,2162.5 1484.7,2174.3 1485.3,2150.6 1485.8,2153.1 1486.3,2163.8 1486.9,2163.6 1487.4,2170.9 1487.9,2184.1 1488.5,2164.1 1489.0,2176.2 1489.5,2185.1 1490.1,2156.5 1490.6,2172.9 1491.1,2158.2 1491.7,2183.3 1492.2,2175.7 1492.7,2170.2 1493.3,2153.3 1493.8,2171.5 1494.3,2160.4 1494.9,2178.8 1495.4,2168.5 1495.9,2159.9 1496.5,2181.6 1497.0,2179.0 1497.5,2162.6 1498.1,2184.5 1498.6,2166.3 1499.1,2166.1 1499.7,2171.5 1500.2,2160.6 1500.7,2164.5 1501.3,2168.0 1501.8,2189.1 1502.3,2188.7 1502.9,2166.8 1503.4,2190.1 1504.0,2169.5 1504.5,2174.8 1505.0,2181.1 1505.6,2173.7 1506.1,2200.2 1506.6,2173.1 1507.2,2155.0 1507.7,2186.3 1508.2,2164.9 1508.8,2166.2 1509.3,2132.6 1509.8,2182.5 1510.4,2180.3 1510.9,2180.0 1511.4,2182.3 1512.0,2191.2 1512.5,2169.5 1513.0,2181.8 1513.6,2160.8 1514.1,2165.6 1514.6,2183.3 1515.2,2175.0 1515.7,2153.4 1516.2,2174.6 1516.8,2167.8 1517.3,2159.8 1517.8,2175.5 1518.4,2165.0 1518.9,2150.5 1519.4,2156.2 1520.0,2192.2 1520.5,2132.2 1521.0,2172.9 1521.6,2185.4 1522.1,2178.1 1522.6,2154.8 1523.2,2166.1 1523.7,2171.9 1524.3,2180.2 1524.8,2162.1 1525.3,2155.6 1525.9,2182.7 1526.4,2197.8 1526.9,2174.8 1527.5,2162.6 1528.0,2175.3 1528.5,2171.6 1529.1,2180.7 1529.6,2154.6 1530.1,2171.7 1530.7,2168.2 1531.2,2156.4 1531.7,2172.9 1532.3,2170.7 1532.8,2165.1 1533.3,2175.2 1533.9,2152.5 1534.4,2169.6 1534.9,2175.7 1535.5,2173.8 1536.0,2183.8 1536.5,2155.3 1537.1,2151.5 1537.6,2176.3 1538.1,2176.0 1538.7,2196.8 1539.2,2178.0 1539.7,2159.4 1540.3,2180.4 1540.8,2149.2 1541.3,2151.8 1541.9,2203.0 1542.4,2174.5 1542.9,2179.3 1543.5,2177.4 1544.0,2193.1 1544.6,2174.0 1545.1,2185.6 1545.6,2157.6 1546.2,2153.0 1546.7,2188.3 1547.2,2188.9 1547.8,2176.9 1548.3,2173.3 1548.8,2172.6 1549.4,2161.9 1549.9,2189.7 1550.4,2178.7 1551.0,2176.8 1551.5,2175.2 1552.0,2183.6 1552.6,2176.9 1553.1,2179.9 1553.6,2155.9 1554.2,2176.9 1554.7,2225.3 1555.2,2164.1 1555.8,2169.0 1556.3,2181.7 1556.8,2182.6 1557.4,2178.4 1557.9,2150.4 1558.4,2176.9 1559.0,2155.8 1559.5,2160.3 1560.0,2177.5 1560.6,2167.0 1561.1,2180.8 1561.6,2210.0 1562.2,2180.4 1562.7,2179.7 1563.3,2159.5 1563.8,2162.7 1564.3,2157.4 1564.9,2164.1 1565.4,2157.1 1565.9,2162.5 1566.5,2168.1 1567.0,2158.2 1567.5,2153.0 1568.1,2153.7 1568.6,2176.4 1569.1,2171.5 1569.7,2183.6 1570.2,2183.8 1570.7,2166.5 1571.3,2179.2 1571.8,2152.8 1572.3,2199.4 1572.9,2185.8 1573.4,2168.1 1573.9,2156.3 1574.5,2175.6 1575.0,2147.5 1575.5,2161.1 1576.1,2189.6 1576.6,2171.8 1577.1,2164.7 1577.7,2182.8 1578.2,2157.9 1578.7,2174.4 1579.3,2164.7 1579.8,2160.3 1580.3,2176.7 1580.9,2158.5 1581.4,2194.7 1581.9,2163.6 1582.5,2195.8 1583.0,2157.2 1583.6,2178.5 1584.1,2155.9 1584.6,2154.2 1585.2,2172.9 1585.7,2179.4 1586.2,2155.0 1586.8,2200.6 1587.3,2161.0 1587.8,2172.6 1588.4,2175.7 1588.9,2178.4 1589.4,2148.5 1590.0,2191.2 1590.5,2178.0 1591.0,2165.7 1591.6,2158.2 1592.1,2149.8 1592.6,2154.0 1593.2,2177.8 1593.7,2166.7 1594.2,2156.8 1594.8,2164.4 1595.3,2190.5 1595.8,2166.9 1596.4,2163.7 1596.9,2187.9 1597.4,2176.8 1598.0,2171.6 1598.5,2163.4 1599.0,2151.6 1599.6,2156.4 1600.1,2165.0 1600.6,2168.3 1601.2,2175.5 1601.7,2177.9 1602.2,2173.8 1602.8,2173.8 1603.3,2158.4 1603.9,2144.1 1604.4,2164.5 1604.9,2159.1 1605.5,2162.8 1606.0,2167.6 1606.5,2155.4 1607.1,2157.1 1607.6,2169.7 1608.1,2172.4 1608.7,2162.8 1609.2,2177.2 1609.7,2168.2 1610.3,2158.2 1610.8,2171.5 1611.3,2194.5 1611.9,2162.5 1612.4,2185.6 1612.9,2188.2 1613.5,2189.7 1614.0,2160.7 1614.5,2196.2 1615.1,2172.4 1615.6,2167.8 1616.1,2168.1 1616.7,2178.5 1617.2,2171.6 1617.7,2168.7 1618.3,2187.0 1618.8,2152.9 1619.3,2157.9 1619.9,2190.8 1620.4,2179.7 1620.9,2184.6 1621.5,2157.5 1622.0,2184.4 1622.5,2176.9 1623.1,2192.9 1623.6,2155.3 1624.2,2173.6 1624.7,2167.4 1625.2,2151.0 1625.8,2162.0 1626.3,2185.0 1626.8,2165.0 1627.4,2161.8 1627.9,2181.7 1628.4,2183.2 1629.0,2183.2 1629.5,2161.0 1630.0,2170.1 1630.6,2183.7 1631.1,2162.6 1631.6,2161.5 1632.2,2181.2 1632.7,2190.4 1633.2,2156.4 1633.8,2138.4 1634.3,2134.6 1634.8,2158.2 1635.4,2169.1 1635.9,2178.5 1636.4,2169.0 1637.0,2162.0 1637.5,2172.7 1638.0,2146.7 1638.6,2170.2 1639.1,2162.7 1639.6,2204.3 1640.2,2181.0 1640.7,2160.3 1641.2,2158.3 1641.8,2165.3 1642.3,2150.2 1642.8,2161.6 1643.4,2161.5 1643.9,2181.8 1644.5,2165.4 1645.0,2160.8 1645.5,2153.9 1646.1,2156.0 1646.6,2169.9 1647.1,2168.0 1647.7,2184.9 1648.2,2162.8 1648.7,2183.9 1649.3,2173.9 1649.8,2170.6 1650.3,2145.5 1650.9,2154.5 1651.4,2179.9 1651.9,2188.1 1652.5,2173.2 1653.0,2180.1 1653.5,2165.5 1654.1,2166.0 1654.6,2162.3 1655.1,2182.8 1655.7,2174.9 1656.2,2167.6 1656.7,2166.5 1657.3,2177.5 1657.8,2174.6 1658.3,2160.1 1658.9,2192.0 1659.4,2173.7 1659.9,2170.7 1660.5,2189.0 1661.0,2183.3 1661.5,2169.4 1662.1,2177.2 1662.6,2157.1 1663.1,2162.5 1663.7,2142.2 1664.2,2185.7 1664.8,2146.7 1665.3,2179.0 1665.8,2160.1 1666.4,2158.2 1666.9,2168.0 1667.4,2173.8 1668.0,2178.1 1668.5,2192.6 1669.0,2174.9 1669.6,2181.4 1670.1,2162.9 1670.6,2179.3 1671.2,2172.3 1671.7,2164.6 1672.2,2169.2 1672.8,2169.6 1673.3,2172.7 1673.8,2175.4 1674.4,2164.0 1674.9,2161.1 1675.4,2179.7 1676.0,2149.1 1676.5,2162.6 1677.0,2189.7 1677.6,2136.4 1678.1,2161.6 1678.6,2178.9 1679.2,2149.6 1679.7,2202.7 1680.2,2137.9 1680.8,2188.2 1681.3,2189.7 1681.8,2181.7 1682.4,2167.5 1682.9,2174.7 1683.5,2159.0 1684.0,2180.3 1684.5,2156.2 1685.1,2166.8 1685.6,2182.6 1686.1,2156.2 1686.7,2165.6 1687.2,2172.2 1687.7,2153.4 1688.3,2184.7 1688.8,2174.4 1689.3,2151.2 1689.9,2169.5 1690.4,2160.4 1690.9,2161.9 1691.5,2171.1 1692.0,2161.2 1692.5,2182.1 1693.1,2161.3 1693.6,2182.3 1694.1,2169.5 1694.7,2180.8 1695.2,2163.3 1695.7,2163.7 1696.3,2155.6 1696.8,2177.3 1697.3,2181.8 1697.9,2223.0 1698.4,2186.2 1698.9,2173.1 1699.5,2167.4 1700.0,2174.9 1700.5,2169.6 1701.1,2188.3 1701.6,2181.8 1702.1,2159.5 1702.7,2161.4 1703.2,2187.1 1703.8,2173.8 1704.3,2167.1 1704.8,2184.8 1705.4,2165.1 1705.9,2166.4 1706.4,2164.2 1707.0,2145.4 1707.5,2180.7 1708.0,2154.8 1708.6,2162.8 1709.1,2160.6 1709.6,2179.0 1710.2,2169.0 1710.7,2170.1 1711.2,2148.9 1711.8,2168.8 1712.3,2151.4 1712.8,2173.7 1713.4,2174.4 1713.9,2169.6 1714.4,2195.4 1715.0,2176.4 1715.5,2177.3 1716.0,2171.6 1716.6,2167.4 1717.1,2181.9 1717.6,2183.6 1718.2,2153.5 1718.7,2183.0 1719.2,2176.2 1719.8,2181.8 1720.3,2175.6 1720.8,2154.2 1721.4,2155.1 1721.9,2192.5 1722.4,2172.9 1723.0,2152.0 1723.5,2174.1 1724.1,2165.2 1724.6,2146.7 1725.1,2141.1 1725.7,2149.6 1726.2,2173.1 1726.7,2169.1 1727.3,2166.5 1727.8,2173.2 1728.3,2184.7 1728.9,2143.4 1729.4,2165.9 1729.9,2159.3 1730.5,2154.2 1731.0,2162.8 1731.5,2168.1 1732.1,2166.3 1732.6,2151.4 1733.1,2157.5 1733.7,2194.8 1734.2,2156.4 1734.7,2148.5 1735.3,2173.0 1735.8,2177.0 1736.3,2175.3 1736.9,2155.5 1737.4,2182.0 1737.9,2159.7 1738.5,2155.3 1739.0,2161.9 1739.5,2168.1 1740.1,2178.4 1740.6,2177.3 1741.1,2169.2 1741.7,2181.1 1742.2,2170.5 1742.7,2180.6 1743.3,2151.9 1743.8,2130.1 1744.4,2179.1 1744.9,2152.0 1745.4,2165.6 1746.0,2168.2 1746.5,2163.3 1747.0,2163.7 1747.6,2186.8 1748.1,2137.8 1748.6,2180.4 1749.2,2198.0 1749.7,2169.6 1750.2,2169.1 1750.8,2178.4 1751.3,2192.2 1751.8,2154.5 1752.4,2170.4 1752.9,2167.0 1753.4,2176.3 1754.0,2171.3 1754.5,2177.5 1755.0,2164.0 1755.6,2169.9 1756.1,2160.9 1756.6,2160.9 1757.2,2167.5 1757.7,2167.5 1758.2,2154.6 1758.8,2188.8 1759.3,2167.5 1759.8,2151.9 1760.4,2183.0 1760.9,2159.8 1761.4,2175.5 1762.0,2169.0 1762.5,2172.3 1763.0,2171.3 1763.6,2162.0 1764.1,2169.6 1764.7,2194.5 1765.2,2141.2 1765.7,2169.9 1766.3,2174.5 1766.8,2155.9 1767.3,2152.0 1767.9,2196.1 1768.4,2164.4 1768.9,2195.1 1769.5,2175.8 1770.0,2170.0 1770.5,2175.0 1771.1,2177.0 1771.6,2183.8 1772.1,2174.5 1772.7,2170.8 1773.2,2171.2" fill="none" stroke="#ff8409" stroke-width="3.5" stroke-linejoin="round" stroke-linecap="butt"/>
<rect x="132.6" y="1550.5" width="1640.6" height="1236.3" fill="none" stroke="#000" stroke-width="4.7"/>
<line x1="132.6" y1="2786.8" x2="132.6" y2="2810.7" stroke="#000" stroke-width="4.7"/>
<line x1="679.5" y1="2786.8" x2="679.5" y2="2810.7" stroke="#000" stroke-width="4.7"/>
<line x1="1226.3" y1="2786.8" x2="1226.3" y2="2810.7" stroke="#000" stroke-width="4.7"/>
<line x1="1773.2" y1="2786.8" x2="1773.2" y2="2810.7" stroke="#000" stroke-width="4.7"/>
<line x1="406.0" y1="2786.8" x2="406.0" y2="2799" stroke="#000" stroke-width="4.7"/>
<line x1="952.9" y1="2786.8" x2="952.9" y2="2799" stroke="#000" stroke-width="4.7"/>
<line x1="1499.8" y1="2786.8" x2="1499.8" y2="2799" stroke="#000" stroke-width="4.7"/>
<text class="tb" x="132.6" y="2871" font-size="56.8" text-anchor="middle" textLength="124.8" lengthAdjust="spacingAndGlyphs">3350</text>
<text class="tb" x="679.5" y="2871" font-size="56.8" text-anchor="middle" textLength="124.8" lengthAdjust="spacingAndGlyphs">3400</text>
<text class="tb" x="1226.3" y="2871" font-size="56.8" text-anchor="middle" textLength="124.8" lengthAdjust="spacingAndGlyphs">3450</text>
<text class="tb" x="1773.2" y="2871" font-size="56.8" text-anchor="middle" textLength="124.8" lengthAdjust="spacingAndGlyphs">3500</text>
<text id="xb" x="937.45" y="2968.8" font-size="73" text-anchor="middle" textLength="609.3" lengthAdjust="spacingAndGlyphs">Magnetific field (G)</text>
<text id="yb" transform="translate(77.4 2152.4) rotate(-90)" font-size="75" text-anchor="middle" textLength="443.4" lengthAdjust="spacingAndGlyphs">Intensity (a.u.)</text>
<text id="lb" x="213.6" y="1653.6" font-size="63.2" textLength="85.6" lengthAdjust="spacingAndGlyphs">(b)</text>
<polygon points="670.8,1642.3 695.5,1683.3 646.0,1683.3" fill="#ff0a8c"/>
<polygon points="836.8,1701.1 861.5,1742.1 812.0,1742.1" fill="#ff0a8c"/>
<polygon points="1009.6,1897.6 1034.3,1938.6 984.9,1938.6" fill="#ff0a8c"/>
<polygon points="1146.0,1682.2 1175.5,1729.5 1116.5,1729.5" fill="#ff0a8c"/>
<text id="l3" x="1223.9" y="1735.8" font-size="72.5">:TEMP-<tspan font-size="44" x="1468.4" y="1714.6" stroke="#000" stroke-width="1.3" font-family="NanumGothic, 'Liberation Sans', sans-serif">1</tspan><tspan x="1493.3" y="1735.8">O</tspan><tspan font-size="46.5" x="1550.4" y="1751.8">2</tspan></text>
</g></svg>
</body>
</html>
